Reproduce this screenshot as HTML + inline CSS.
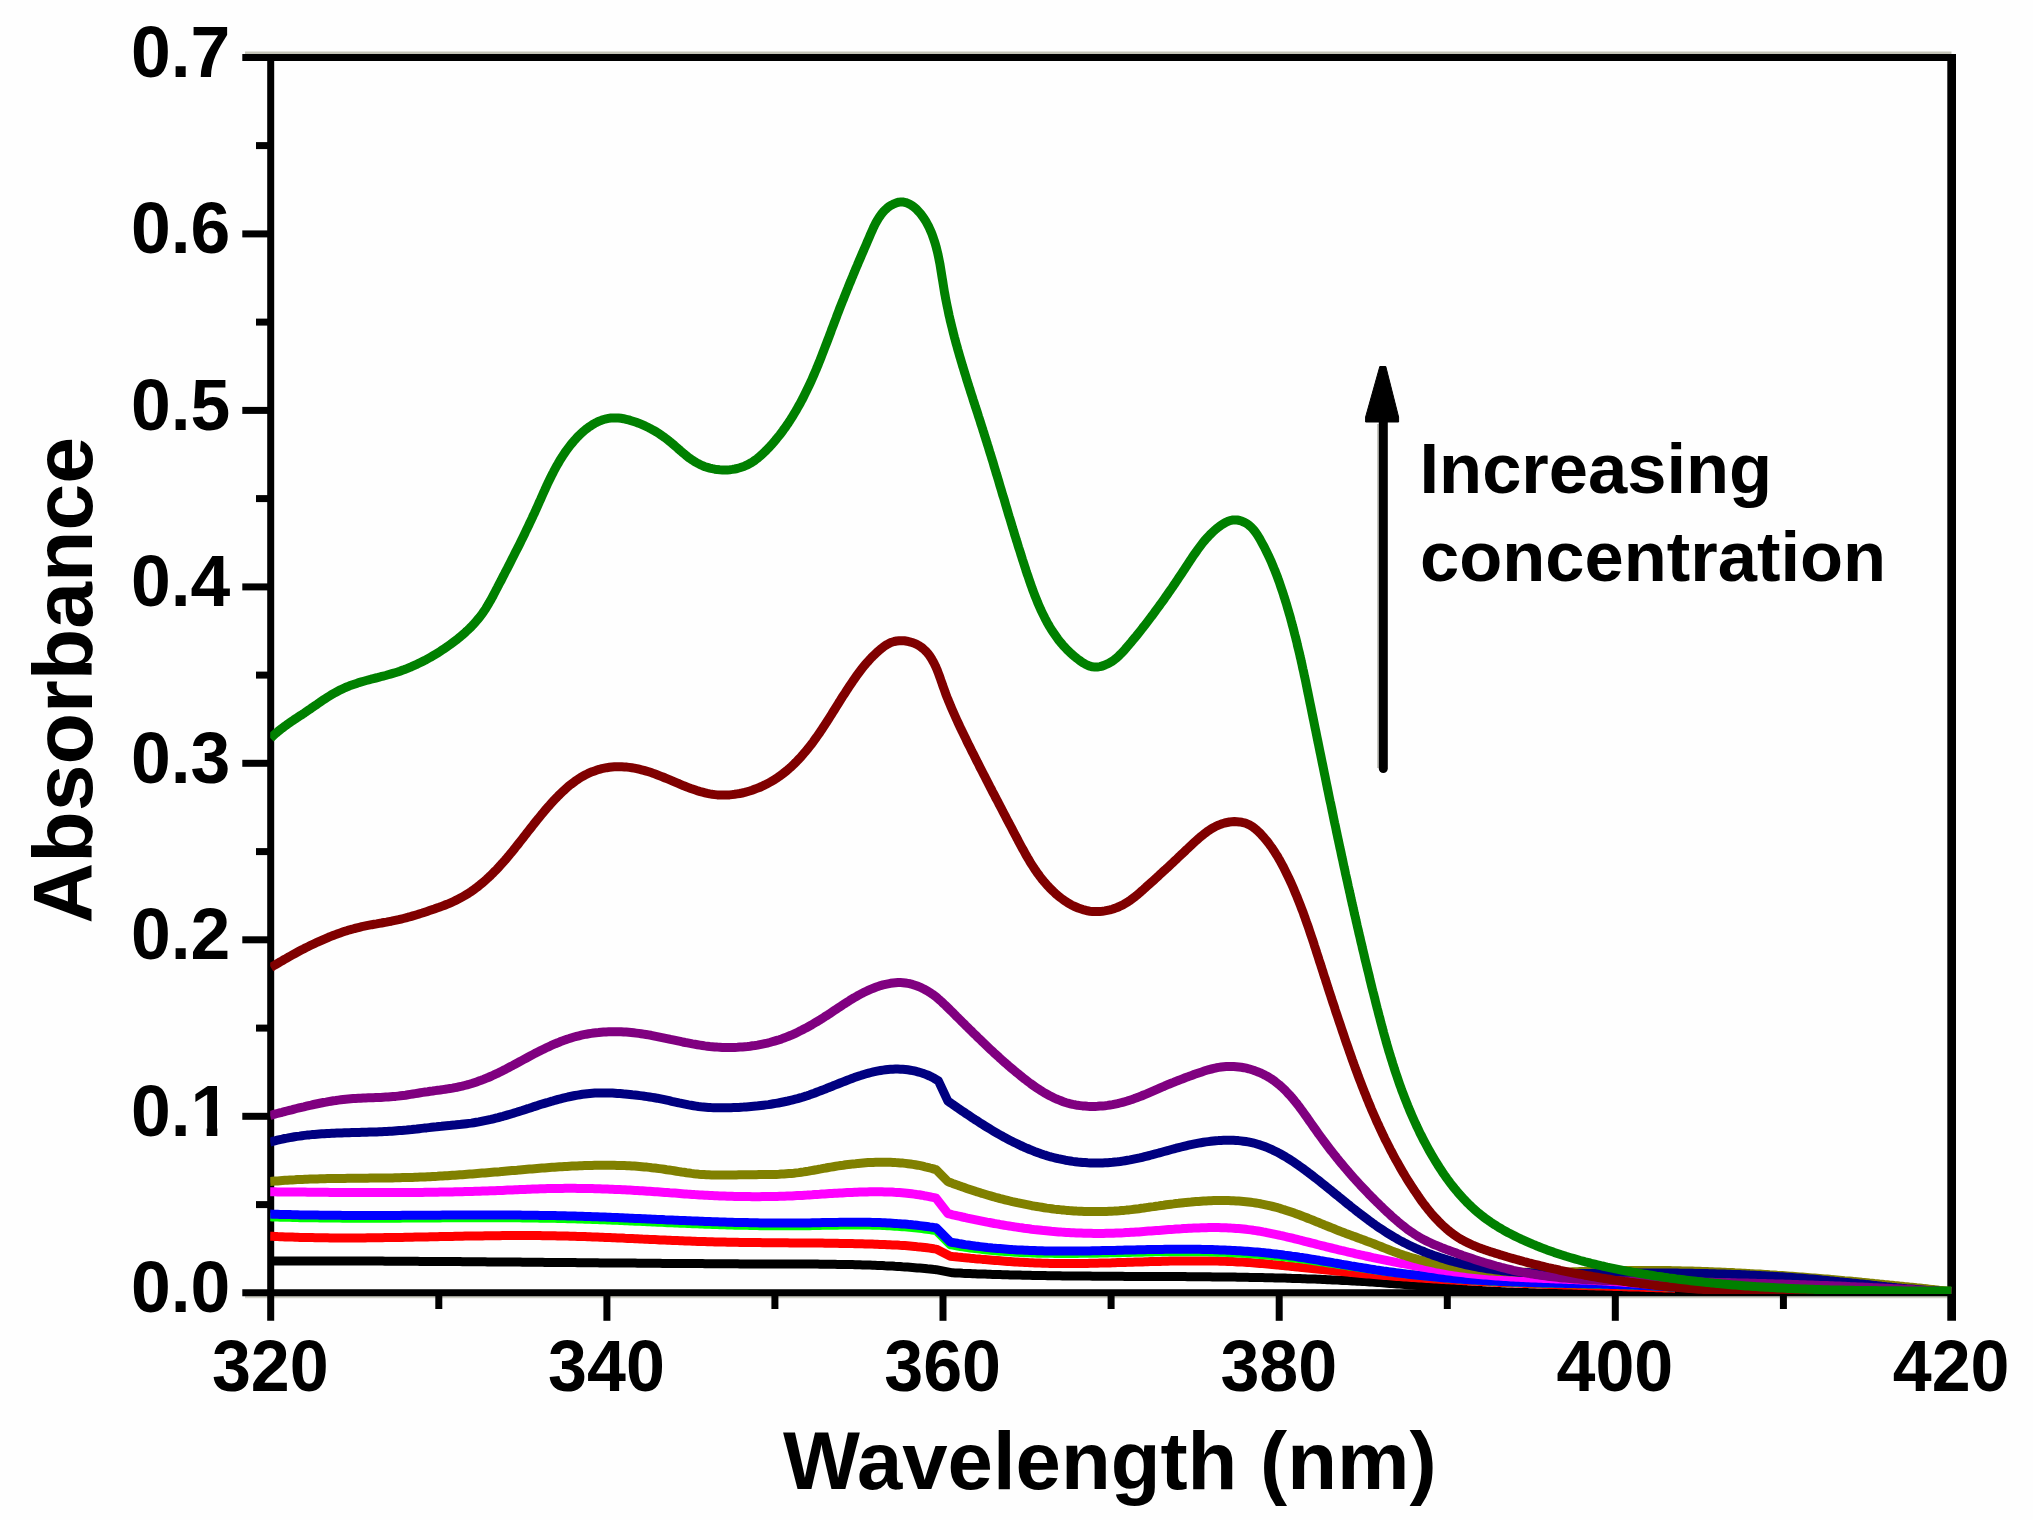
<!DOCTYPE html>
<html lang="en"><head><meta charset="utf-8"><title>Absorbance vs Wavelength</title>
<style>html,body{margin:0;padding:0;background:#fefefe}body{width:2033px;height:1520px;overflow:hidden}svg{display:block}</style></head>
<body>
<svg width="2033" height="1520" viewBox="0 0 2033 1520">
<rect width="2033" height="1520" fill="#fefefe"/>
<g stroke="#000" stroke-width="7" fill="none" stroke-linecap="butt">
<line x1="245" y1="52.8" x2="1951.5" y2="52.8" stroke="#c4c4b8" stroke-width="2.4"/>
<line x1="245" y1="1297.0" x2="1947.5" y2="1297.0" stroke="#d0d0c6" stroke-width="2.4"/>
<line x1="242.3" y1="57.4" x2="1956.0" y2="57.4"/>
<line x1="270.7" y1="57.4" x2="270.7" y2="1320.8"/>
<line x1="242.3" y1="1292.8" x2="1951.5" y2="1292.8"/>
<line x1="1951.65" y1="53.9" x2="1951.65" y2="1320.8" stroke-width="8.7"/>
<line x1="256" y1="1204.6" x2="270.7" y2="1204.6"/>
<line x1="242.3" y1="1116.3" x2="270.7" y2="1116.3"/>
<line x1="256" y1="1028.1" x2="270.7" y2="1028.1"/>
<line x1="242.3" y1="939.8" x2="270.7" y2="939.8"/>
<line x1="256" y1="851.6" x2="270.7" y2="851.6"/>
<line x1="242.3" y1="763.3" x2="270.7" y2="763.3"/>
<line x1="256" y1="675.1" x2="270.7" y2="675.1"/>
<line x1="242.3" y1="586.9" x2="270.7" y2="586.9"/>
<line x1="256" y1="498.6" x2="270.7" y2="498.6"/>
<line x1="242.3" y1="410.4" x2="270.7" y2="410.4"/>
<line x1="256" y1="322.1" x2="270.7" y2="322.1"/>
<line x1="242.3" y1="233.9" x2="270.7" y2="233.9"/>
<line x1="256" y1="145.6" x2="270.7" y2="145.6"/>
<line x1="438.8" y1="1292.8" x2="438.8" y2="1309"/>
<line x1="606.9" y1="1292.8" x2="606.9" y2="1320.8"/>
<line x1="774.9" y1="1292.8" x2="774.9" y2="1309"/>
<line x1="943.0" y1="1292.8" x2="943.0" y2="1320.8"/>
<line x1="1111.1" y1="1292.8" x2="1111.1" y2="1309"/>
<line x1="1279.2" y1="1292.8" x2="1279.2" y2="1320.8"/>
<line x1="1447.3" y1="1292.8" x2="1447.3" y2="1309"/>
<line x1="1615.3" y1="1292.8" x2="1615.3" y2="1320.8"/>
<line x1="1783.4" y1="1292.8" x2="1783.4" y2="1309"/>
</g>
<clipPath id="pc"><rect x="270.2" y="50" width="1681.6" height="1244"/></clipPath>
<g fill="none" stroke-linejoin="round" stroke-linecap="butt" clip-path="url(#pc)">
<path d="M270.0,1260.9 L272.5,1260.9 L275.0,1260.9 L277.5,1260.9 L280.0,1260.9 L282.5,1260.9 L285.0,1260.9 L287.5,1260.9 L290.0,1260.9 L292.5,1260.9 L295.0,1260.9 L297.5,1260.9 L300.0,1260.9 L302.5,1260.9 L305.0,1260.9 L307.5,1260.9 L310.0,1260.9 L312.5,1260.9 L315.0,1260.9 L317.5,1260.9 L320.0,1260.9 L322.5,1260.9 L325.0,1260.9 L327.5,1260.9 L330.0,1260.9 L332.5,1260.9 L335.0,1261.0 L337.5,1261.0 L340.0,1261.0 L342.5,1261.0 L345.0,1261.0 L347.5,1261.0 L350.0,1261.0 L352.5,1261.0 L355.0,1261.0 L357.5,1261.0 L360.0,1261.0 L362.5,1261.0 L365.0,1261.1 L367.5,1261.1 L370.0,1261.1 L372.5,1261.1 L375.0,1261.1 L377.5,1261.1 L380.0,1261.1 L382.5,1261.1 L385.0,1261.2 L387.5,1261.2 L390.0,1261.2 L392.5,1261.2 L395.0,1261.2 L397.5,1261.2 L400.0,1261.2 L402.5,1261.3 L405.0,1261.3 L407.5,1261.3 L410.0,1261.3 L412.5,1261.3 L415.0,1261.3 L417.5,1261.3 L420.0,1261.4 L422.5,1261.4 L425.0,1261.4 L427.5,1261.4 L430.0,1261.4 L432.5,1261.4 L435.0,1261.5 L437.5,1261.5 L440.0,1261.5 L442.5,1261.5 L445.0,1261.5 L447.5,1261.6 L450.0,1261.6 L452.5,1261.6 L455.0,1261.6 L457.5,1261.6 L460.0,1261.6 L462.5,1261.7 L465.0,1261.7 L467.5,1261.7 L470.0,1261.7 L472.5,1261.7 L475.0,1261.8 L477.5,1261.8 L480.0,1261.8 L482.5,1261.8 L485.0,1261.8 L487.5,1261.9 L490.0,1261.9 L492.5,1261.9 L495.0,1261.9 L497.5,1262.0 L500.0,1262.0 L502.5,1262.0 L505.0,1262.0 L507.5,1262.0 L510.0,1262.1 L512.5,1262.1 L515.0,1262.1 L517.5,1262.1 L520.0,1262.1 L522.5,1262.2 L525.0,1262.2 L527.5,1262.2 L530.0,1262.2 L532.5,1262.3 L535.0,1262.3 L537.5,1262.3 L540.0,1262.3 L542.5,1262.3 L545.0,1262.4 L547.5,1262.4 L550.0,1262.4 L552.5,1262.4 L555.0,1262.5 L557.5,1262.5 L560.0,1262.5 L562.5,1262.5 L565.0,1262.5 L567.5,1262.6 L570.0,1262.6 L572.5,1262.6 L575.0,1262.6 L577.5,1262.7 L580.0,1262.7 L582.5,1262.7 L585.0,1262.7 L587.5,1262.7 L590.0,1262.8 L592.5,1262.8 L595.0,1262.8 L597.5,1262.8 L600.0,1262.9 L602.5,1262.9 L605.0,1262.9 L607.5,1262.9 L610.0,1262.9 L612.5,1263.0 L615.0,1263.0 L617.5,1263.0 L620.0,1263.0 L622.5,1263.0 L625.0,1263.1 L627.5,1263.1 L630.0,1263.1 L632.5,1263.1 L635.0,1263.1 L637.5,1263.2 L640.0,1263.2 L642.5,1263.2 L645.0,1263.2 L647.5,1263.3 L650.0,1263.3 L652.5,1263.3 L655.0,1263.3 L657.5,1263.3 L660.0,1263.3 L662.5,1263.4 L665.0,1263.4 L667.5,1263.4 L670.0,1263.4 L672.5,1263.4 L675.0,1263.5 L677.5,1263.5 L680.0,1263.5 L682.5,1263.5 L685.0,1263.5 L687.5,1263.5 L690.0,1263.6 L692.5,1263.6 L695.0,1263.6 L697.5,1263.6 L700.0,1263.6 L702.5,1263.6 L705.0,1263.7 L707.5,1263.7 L710.0,1263.7 L712.5,1263.7 L715.0,1263.7 L717.5,1263.7 L720.0,1263.8 L722.5,1263.8 L725.0,1263.8 L727.5,1263.8 L730.0,1263.8 L732.5,1263.8 L735.0,1263.8 L737.5,1263.8 L740.0,1263.9 L742.5,1263.9 L745.0,1263.9 L747.5,1263.9 L750.0,1263.9 L752.5,1263.9 L755.0,1263.9 L757.5,1263.9 L760.0,1263.9 L762.5,1264.0 L765.0,1264.0 L767.5,1264.0 L770.0,1264.0 L772.5,1264.0 L775.0,1264.0 L777.5,1264.0 L780.0,1264.0 L782.5,1264.0 L785.0,1264.0 L787.5,1264.0 L790.0,1264.0 L792.5,1264.0 L795.0,1264.0 L797.5,1264.1 L800.0,1264.1 L802.5,1264.1 L805.0,1264.1 L807.5,1264.1 L810.0,1264.1 L812.5,1264.1 L815.0,1264.1 L817.5,1264.1 L820.0,1264.2 L822.5,1264.2 L825.0,1264.2 L827.5,1264.2 L830.0,1264.3 L832.5,1264.3 L835.0,1264.3 L837.5,1264.4 L840.0,1264.4 L842.5,1264.4 L845.0,1264.5 L847.5,1264.5 L850.0,1264.6 L852.5,1264.6 L855.0,1264.7 L857.5,1264.8 L860.0,1264.8 L862.5,1264.9 L865.0,1265.0 L867.5,1265.1 L870.0,1265.1 L872.5,1265.2 L875.0,1265.3 L877.4,1265.4 L879.9,1265.5 L882.4,1265.6 L884.9,1265.8 L887.4,1265.9 L889.9,1266.0 L892.4,1266.1 L894.9,1266.3 L897.4,1266.4 L899.9,1266.6 L902.4,1266.8 L904.9,1266.9 L907.4,1267.1 L909.9,1267.3 L912.4,1267.5 L914.8,1267.7 L917.3,1267.9 L919.8,1268.1 L922.3,1268.3 L924.8,1268.5 L927.3,1268.8 L929.8,1269.0 L932.3,1269.3 L934.8,1269.6 L936.1,1269.7 L952.6,1272.8 L955.1,1272.9 L957.6,1273.0 L960.1,1273.1 L962.6,1273.3 L965.1,1273.4 L967.6,1273.5 L970.1,1273.6 L972.6,1273.7 L975.1,1273.8 L977.6,1273.9 L980.1,1274.0 L982.6,1274.0 L985.1,1274.1 L987.6,1274.2 L990.1,1274.3 L992.6,1274.4 L995.1,1274.5 L997.6,1274.5 L1000.1,1274.6 L1002.6,1274.7 L1005.1,1274.8 L1007.6,1274.8 L1010.1,1274.9 L1012.6,1275.0 L1015.1,1275.0 L1017.6,1275.1 L1020.1,1275.1 L1022.6,1275.2 L1025.1,1275.2 L1027.6,1275.3 L1030.1,1275.3 L1032.6,1275.4 L1035.1,1275.4 L1037.6,1275.5 L1040.1,1275.5 L1042.6,1275.6 L1045.1,1275.6 L1047.6,1275.7 L1050.1,1275.7 L1052.5,1275.7 L1055.0,1275.8 L1057.5,1275.8 L1060.0,1275.8 L1062.5,1275.9 L1065.0,1275.9 L1067.5,1275.9 L1070.0,1275.9 L1072.5,1276.0 L1075.0,1276.0 L1077.5,1276.0 L1080.0,1276.1 L1082.5,1276.1 L1085.0,1276.1 L1087.5,1276.1 L1090.0,1276.1 L1092.5,1276.2 L1095.0,1276.2 L1097.5,1276.2 L1100.0,1276.2 L1102.5,1276.2 L1105.0,1276.2 L1107.5,1276.3 L1110.0,1276.3 L1112.5,1276.3 L1115.0,1276.3 L1117.5,1276.3 L1120.0,1276.3 L1122.5,1276.3 L1125.0,1276.4 L1127.5,1276.4 L1130.0,1276.4 L1132.5,1276.4 L1135.0,1276.4 L1137.6,1276.4 L1140.1,1276.4 L1142.6,1276.4 L1145.1,1276.4 L1147.6,1276.5 L1150.1,1276.5 L1152.6,1276.5 L1155.1,1276.5 L1157.6,1276.5 L1160.1,1276.5 L1162.6,1276.5 L1165.1,1276.5 L1167.6,1276.5 L1170.1,1276.6 L1172.6,1276.6 L1175.1,1276.6 L1177.6,1276.6 L1180.0,1276.6 L1182.5,1276.6 L1185.0,1276.6 L1187.5,1276.7 L1190.0,1276.7 L1192.5,1276.7 L1195.0,1276.7 L1197.5,1276.7 L1200.0,1276.7 L1202.5,1276.8 L1205.0,1276.8 L1207.5,1276.8 L1210.0,1276.8 L1212.5,1276.9 L1215.0,1276.9 L1217.5,1276.9 L1220.0,1276.9 L1222.5,1277.0 L1225.0,1277.0 L1227.5,1277.0 L1230.0,1277.1 L1232.5,1277.1 L1235.0,1277.1 L1237.5,1277.2 L1240.0,1277.2 L1242.5,1277.2 L1245.0,1277.3 L1247.5,1277.3 L1250.0,1277.4 L1252.5,1277.4 L1255.0,1277.5 L1257.5,1277.5 L1260.0,1277.5 L1262.5,1277.6 L1265.0,1277.7 L1267.5,1277.7 L1270.0,1277.8 L1272.5,1277.8 L1275.0,1277.9 L1277.5,1277.9 L1280.0,1278.0 L1282.5,1278.1 L1285.0,1278.1 L1287.5,1278.2 L1290.0,1278.3 L1292.5,1278.4 L1295.0,1278.4 L1297.5,1278.5 L1300.0,1278.6 L1302.5,1278.7 L1305.0,1278.8 L1307.5,1278.9 L1310.0,1278.9 L1312.5,1279.0 L1315.0,1279.1 L1317.5,1279.2 L1320.0,1279.3 L1322.5,1279.4 L1325.0,1279.5 L1327.5,1279.7 L1330.0,1279.8 L1332.4,1279.9 L1334.9,1280.0 L1337.4,1280.1 L1339.9,1280.2 L1342.4,1280.4 L1344.9,1280.5 L1347.4,1280.6 L1349.9,1280.8 L1352.4,1280.9 L1354.9,1281.0 L1357.4,1281.2 L1359.9,1281.3 L1362.4,1281.5 L1364.9,1281.6 L1367.4,1281.8 L1369.9,1282.0 L1372.4,1282.1 L1374.9,1282.3 L1377.4,1282.5 L1379.9,1282.6 L1382.3,1282.8 L1384.8,1283.0 L1387.3,1283.2 L1389.8,1283.4 L1392.3,1283.5 L1394.8,1283.7 L1397.3,1283.9 L1399.8,1284.1 L1402.3,1284.3 L1404.8,1284.5 L1407.3,1284.7 L1409.8,1284.9 L1412.3,1285.1 L1414.8,1285.3 L1417.3,1285.5 L1419.7,1285.8 L1422.2,1286.0 L1424.7,1286.2 L1427.2,1286.4 L1429.7,1286.6 L1432.2,1286.8 L1434.7,1287.0 L1437.2,1287.2 L1439.7,1287.4 L1442.2,1287.6 L1444.7,1287.8 L1447.2,1288.0 L1449.7,1288.2 L1452.2,1288.4 L1454.7,1288.6 L1457.1,1288.8 L1459.6,1289.0 L1462.1,1289.2 L1464.6,1289.4 L1467.1,1289.6 L1469.6,1289.7 L1472.1,1289.9 L1474.6,1290.1 L1477.1,1290.3 L1479.6,1290.4 L1482.1,1290.6 L1484.6,1290.7 L1487.1,1290.9 L1489.6,1291.0 L1492.1,1291.2 L1494.6,1291.3 L1497.1,1291.5 L1499.6,1291.6 L1502.1,1291.7 L1504.6,1291.8 L1507.1,1291.9 L1509.5,1292.0 L1512.0,1292.1 L1514.5,1292.2 L1517.0,1292.3 L1519.5,1292.4 L1522.0,1292.5 L1524.5,1292.6 L1527.0,1292.6 L1529.5,1292.7 L1532.0,1292.7 L1534.5,1292.8 L1537.0,1292.9 L1539.5,1292.9 L1542.0,1292.9 L1544.5,1293.0 L1547.0,1293.0 L1549.5,1293.0 L1552.0,1293.1 L1554.5,1293.1 L1557.0,1293.1 L1559.5,1293.1 L1562.0,1293.1 L1564.5,1293.1 L1567.0,1293.1 L1569.5,1293.1 L1572.0,1293.1 L1574.5,1293.1 L1577.0,1293.1 L1579.5,1293.1 L1582.0,1293.0 L1584.5,1293.0 L1587.0,1293.0 L1589.5,1293.0 L1592.1,1292.9 L1594.6,1292.9 L1597.1,1292.9 L1599.6,1292.8 L1602.1,1292.8 L1604.6,1292.7 L1607.1,1292.7 L1609.6,1292.6 L1612.1,1292.6 L1614.6,1292.5 L1617.1,1292.4 L1619.6,1292.4 L1622.1,1292.3 L1624.6,1292.2 L1627.1,1292.2 L1629.6,1292.1 L1632.1,1292.0 L1634.6,1292.0 L1637.1,1291.9 L1639.6,1291.8 L1642.1,1291.7 L1644.6,1291.6 L1647.1,1291.6 L1649.6,1291.5 L1652.1,1291.4 L1654.6,1291.3 L1657.1,1291.2 L1659.6,1291.1 L1662.1,1291.0 L1664.7,1290.9 L1667.2,1290.9 L1669.7,1290.8 L1672.2,1290.7 L1674.7,1290.6 L1677.2,1290.5 L1679.7,1290.4 L1682.2,1290.3 L1684.7,1290.2 L1687.2,1290.1 L1689.7,1290.0 L1692.2,1289.9 L1694.7,1289.8 L1697.2,1289.7 L1699.7,1289.6 L1702.2,1289.5 L1704.7,1289.4 L1707.2,1289.3 L1709.7,1289.2 L1712.2,1289.1 L1714.7,1289.0 L1717.2,1289.0 L1719.7,1288.9 L1722.2,1288.8 L1724.8,1288.7 L1727.3,1288.6 L1729.8,1288.5 L1732.3,1288.4 L1734.8,1288.3 L1737.3,1288.2 L1739.8,1288.1 L1742.3,1288.1 L1744.8,1288.0 L1747.3,1287.9 L1749.8,1287.8 L1752.3,1287.7 L1754.8,1287.7 L1757.3,1287.6 L1759.8,1287.5 L1762.3,1287.4 L1764.8,1287.4 L1767.3,1287.3 L1769.8,1287.2 L1772.3,1287.2 L1774.8,1287.1 L1777.3,1287.1 L1779.8,1287.0 L1782.3,1287.0 L1784.8,1286.9 L1787.3,1286.9 L1789.8,1286.8 L1792.3,1286.8 L1794.8,1286.7 L1797.3,1286.7 L1799.8,1286.7 L1802.3,1286.6 L1804.8,1286.6 L1807.3,1286.6 L1809.8,1286.5 L1812.3,1286.5 L1814.8,1286.5 L1817.3,1286.5 L1819.8,1286.5 L1822.3,1286.5 L1824.8,1286.5 L1827.3,1286.5 L1829.8,1286.5 L1832.3,1286.5 L1834.8,1286.5 L1837.3,1286.5 L1839.8,1286.6 L1842.3,1286.6 L1844.8,1286.6 L1847.3,1286.7 L1849.8,1286.7 L1852.3,1286.7 L1854.8,1286.8 L1857.3,1286.9 L1859.8,1286.9 L1862.3,1287.0 L1864.8,1287.0 L1867.3,1287.1 L1869.8,1287.2 L1872.3,1287.3 L1874.8,1287.4 L1877.3,1287.5 L1879.8,1287.6 L1882.3,1287.7 L1884.8,1287.8 L1887.3,1287.9 L1889.8,1288.0 L1892.3,1288.1 L1894.7,1288.3 L1897.2,1288.4 L1899.7,1288.6 L1902.2,1288.7 L1904.7,1288.9 L1907.2,1289.0 L1909.7,1289.2 L1912.2,1289.4 L1914.7,1289.5 L1917.2,1289.7 L1919.7,1289.9 L1922.2,1290.1 L1924.7,1290.3 L1927.1,1290.5 L1929.6,1290.8 L1932.1,1291.0 L1934.6,1291.2 L1937.1,1291.5 L1939.6,1291.7 L1942.1,1292.0 L1944.6,1292.2 L1947.1,1292.5 L1949.5,1292.8 L1951.5,1293.0" stroke="#000000" stroke-width="9"/>
<path d="M270.0,1236.2 L272.5,1236.3 L275.0,1236.4 L277.5,1236.6 L280.0,1236.7 L282.5,1236.8 L285.0,1236.9 L287.5,1237.0 L290.0,1237.0 L292.5,1237.1 L295.0,1237.2 L297.5,1237.3 L300.0,1237.4 L302.5,1237.4 L305.0,1237.5 L307.5,1237.5 L310.0,1237.6 L312.5,1237.6 L315.0,1237.7 L317.5,1237.7 L320.0,1237.8 L322.5,1237.8 L325.0,1237.8 L327.5,1237.8 L330.0,1237.9 L332.5,1237.9 L335.0,1237.9 L337.5,1237.9 L340.0,1237.9 L342.5,1237.9 L345.0,1237.9 L347.5,1237.9 L350.0,1237.9 L352.5,1237.9 L355.0,1237.9 L357.5,1237.9 L360.0,1237.9 L362.5,1237.9 L365.0,1237.9 L367.5,1237.8 L370.0,1237.8 L372.5,1237.8 L375.0,1237.8 L377.5,1237.7 L380.0,1237.7 L382.5,1237.7 L385.0,1237.6 L387.5,1237.6 L390.0,1237.6 L392.5,1237.5 L395.0,1237.5 L397.5,1237.4 L400.0,1237.4 L402.5,1237.4 L405.0,1237.3 L407.5,1237.3 L410.0,1237.2 L412.5,1237.2 L415.0,1237.1 L417.5,1237.1 L420.0,1237.0 L422.5,1237.0 L425.0,1236.9 L427.5,1236.9 L430.0,1236.8 L432.5,1236.8 L435.0,1236.7 L437.5,1236.7 L440.0,1236.6 L442.5,1236.6 L445.0,1236.5 L447.5,1236.5 L450.0,1236.4 L452.5,1236.4 L455.0,1236.3 L457.5,1236.3 L460.0,1236.2 L462.5,1236.2 L465.0,1236.1 L467.5,1236.1 L470.0,1236.1 L472.5,1236.0 L475.0,1236.0 L477.5,1235.9 L480.0,1235.9 L482.5,1235.9 L485.0,1235.8 L487.5,1235.8 L490.0,1235.8 L492.5,1235.7 L495.0,1235.7 L497.5,1235.7 L500.0,1235.7 L502.5,1235.6 L505.0,1235.6 L507.5,1235.6 L510.0,1235.6 L512.5,1235.6 L515.0,1235.6 L517.5,1235.6 L520.0,1235.6 L522.5,1235.6 L525.0,1235.6 L527.5,1235.6 L530.0,1235.6 L532.5,1235.6 L535.0,1235.6 L537.5,1235.6 L540.0,1235.6 L542.5,1235.7 L545.0,1235.7 L547.5,1235.7 L550.0,1235.8 L552.5,1235.8 L555.0,1235.8 L557.5,1235.9 L560.0,1235.9 L562.5,1236.0 L565.0,1236.0 L567.5,1236.1 L570.0,1236.2 L572.5,1236.2 L575.0,1236.3 L577.5,1236.4 L580.0,1236.5 L582.5,1236.6 L585.0,1236.6 L587.5,1236.7 L590.0,1236.8 L592.5,1236.9 L595.0,1237.0 L597.5,1237.1 L600.0,1237.2 L602.5,1237.3 L605.0,1237.4 L607.5,1237.5 L610.0,1237.6 L612.5,1237.7 L615.0,1237.8 L617.5,1237.9 L620.0,1238.0 L622.5,1238.1 L625.0,1238.3 L627.5,1238.4 L630.0,1238.5 L632.5,1238.6 L635.0,1238.7 L637.4,1238.8 L639.9,1238.9 L642.4,1239.1 L644.9,1239.2 L647.4,1239.3 L649.9,1239.4 L652.4,1239.5 L654.9,1239.6 L657.4,1239.7 L659.9,1239.9 L662.4,1240.0 L664.9,1240.1 L667.4,1240.2 L669.9,1240.3 L672.4,1240.4 L674.9,1240.5 L677.4,1240.6 L679.9,1240.7 L682.4,1240.8 L684.9,1240.9 L687.4,1241.0 L689.9,1241.1 L692.4,1241.2 L694.9,1241.3 L697.4,1241.4 L699.9,1241.4 L702.4,1241.5 L704.9,1241.6 L707.4,1241.7 L709.9,1241.7 L712.4,1241.8 L714.9,1241.9 L717.4,1241.9 L719.9,1242.0 L722.4,1242.1 L724.9,1242.1 L727.4,1242.2 L729.9,1242.2 L732.4,1242.3 L734.9,1242.3 L737.4,1242.3 L739.9,1242.4 L742.4,1242.4 L744.9,1242.5 L747.4,1242.5 L749.9,1242.5 L752.4,1242.5 L754.9,1242.6 L757.4,1242.6 L759.9,1242.6 L762.4,1242.7 L764.9,1242.7 L767.4,1242.7 L769.9,1242.7 L772.4,1242.7 L774.9,1242.8 L777.4,1242.8 L779.9,1242.8 L782.4,1242.8 L784.9,1242.8 L787.4,1242.8 L789.9,1242.9 L792.4,1242.9 L794.9,1242.9 L797.4,1242.9 L799.9,1242.9 L802.4,1243.0 L804.9,1243.0 L807.4,1243.0 L809.9,1243.0 L812.4,1243.0 L814.9,1243.1 L817.4,1243.1 L819.9,1243.1 L822.4,1243.1 L824.9,1243.2 L827.4,1243.2 L829.9,1243.2 L832.4,1243.3 L834.9,1243.3 L837.4,1243.3 L839.9,1243.4 L842.4,1243.4 L844.9,1243.5 L847.4,1243.5 L849.9,1243.5 L852.4,1243.6 L854.9,1243.7 L857.4,1243.7 L859.9,1243.8 L862.4,1243.8 L864.9,1243.9 L867.4,1244.0 L869.9,1244.0 L872.3,1244.1 L874.8,1244.2 L877.3,1244.3 L879.8,1244.4 L882.3,1244.5 L884.8,1244.5 L887.3,1244.7 L889.8,1244.8 L892.3,1244.9 L894.8,1245.0 L897.3,1245.1 L899.8,1245.3 L902.3,1245.4 L904.8,1245.6 L907.3,1245.8 L909.8,1246.0 L912.2,1246.2 L914.7,1246.4 L917.2,1246.7 L919.7,1246.9 L922.2,1247.2 L924.7,1247.5 L927.2,1247.8 L929.7,1248.1 L932.1,1248.5 L934.6,1248.9 L936.1,1249.1 L950.3,1256.2 L952.8,1256.5 L955.3,1256.7 L957.8,1257.0 L960.2,1257.2 L962.7,1257.5 L965.2,1257.7 L967.7,1257.9 L970.2,1258.2 L972.7,1258.4 L975.2,1258.7 L977.7,1258.9 L980.1,1259.1 L982.6,1259.4 L985.1,1259.6 L987.6,1259.8 L990.1,1260.0 L992.6,1260.2 L995.1,1260.4 L997.6,1260.6 L1000.1,1260.8 L1002.6,1261.0 L1005.1,1261.2 L1007.6,1261.4 L1010.1,1261.5 L1012.5,1261.7 L1015.0,1261.9 L1017.5,1262.0 L1020.0,1262.2 L1022.5,1262.3 L1025.0,1262.5 L1027.5,1262.6 L1030.0,1262.7 L1032.5,1262.8 L1035.0,1262.9 L1037.5,1263.0 L1040.0,1263.1 L1042.5,1263.2 L1045.0,1263.2 L1047.5,1263.3 L1050.0,1263.4 L1052.5,1263.4 L1055.0,1263.4 L1057.5,1263.5 L1060.0,1263.5 L1062.5,1263.5 L1065.0,1263.5 L1067.5,1263.5 L1070.0,1263.5 L1072.5,1263.5 L1075.0,1263.5 L1077.5,1263.5 L1080.0,1263.5 L1082.5,1263.4 L1085.0,1263.4 L1087.5,1263.4 L1090.0,1263.3 L1092.5,1263.3 L1095.0,1263.2 L1097.5,1263.2 L1100.0,1263.1 L1102.5,1263.0 L1105.0,1263.0 L1107.5,1262.9 L1110.0,1262.9 L1112.5,1262.8 L1115.0,1262.7 L1117.6,1262.6 L1120.1,1262.6 L1122.6,1262.5 L1125.1,1262.4 L1127.6,1262.3 L1130.1,1262.3 L1132.6,1262.2 L1135.1,1262.1 L1137.6,1262.0 L1140.1,1261.9 L1142.6,1261.9 L1145.1,1261.8 L1147.6,1261.7 L1150.1,1261.6 L1152.6,1261.6 L1155.1,1261.5 L1157.6,1261.4 L1160.1,1261.4 L1162.6,1261.3 L1165.1,1261.3 L1167.6,1261.2 L1170.1,1261.1 L1172.6,1261.1 L1175.1,1261.0 L1177.6,1261.0 L1180.1,1261.0 L1182.6,1260.9 L1185.1,1260.9 L1187.6,1260.9 L1190.1,1260.9 L1192.6,1260.9 L1195.1,1260.9 L1197.6,1260.9 L1200.1,1260.9 L1202.6,1260.9 L1205.1,1260.9 L1207.6,1260.9 L1210.0,1261.0 L1212.5,1261.0 L1215.0,1261.0 L1217.5,1261.1 L1220.0,1261.2 L1222.5,1261.2 L1225.0,1261.3 L1227.5,1261.4 L1230.0,1261.5 L1232.5,1261.6 L1235.0,1261.7 L1237.5,1261.9 L1240.0,1262.0 L1242.5,1262.1 L1245.0,1262.3 L1247.4,1262.5 L1249.9,1262.6 L1252.4,1262.8 L1254.9,1263.0 L1257.4,1263.2 L1259.9,1263.4 L1262.4,1263.6 L1264.9,1263.8 L1267.4,1264.0 L1269.9,1264.2 L1272.3,1264.5 L1274.8,1264.7 L1277.3,1264.9 L1279.8,1265.2 L1282.3,1265.4 L1284.8,1265.7 L1287.3,1265.9 L1289.8,1266.2 L1292.2,1266.4 L1294.7,1266.7 L1297.2,1266.9 L1299.7,1267.2 L1302.2,1267.5 L1304.7,1267.7 L1307.2,1268.0 L1309.7,1268.2 L1312.1,1268.5 L1314.6,1268.8 L1317.1,1269.0 L1319.6,1269.3 L1322.1,1269.6 L1324.6,1269.8 L1327.1,1270.1 L1329.6,1270.3 L1332.0,1270.6 L1334.5,1270.8 L1337.0,1271.1 L1339.5,1271.3 L1342.0,1271.6 L1344.5,1271.8 L1347.0,1272.1 L1349.5,1272.3 L1352.0,1272.5 L1354.4,1272.8 L1356.9,1273.0 L1359.4,1273.2 L1361.9,1273.5 L1364.4,1273.7 L1366.9,1273.9 L1369.4,1274.1 L1371.9,1274.3 L1374.4,1274.6 L1376.9,1274.8 L1379.4,1275.0 L1381.9,1275.2 L1384.3,1275.4 L1386.8,1275.6 L1389.3,1275.8 L1391.8,1276.0 L1394.3,1276.2 L1396.8,1276.4 L1399.3,1276.6 L1401.8,1276.7 L1404.3,1276.9 L1406.8,1277.1 L1409.3,1277.3 L1411.8,1277.5 L1414.3,1277.6 L1416.8,1277.8 L1419.2,1278.0 L1421.7,1278.1 L1424.2,1278.3 L1426.7,1278.5 L1429.2,1278.6 L1431.7,1278.8 L1434.2,1278.9 L1436.7,1279.1 L1439.2,1279.3 L1441.7,1279.4 L1444.2,1279.6 L1446.7,1279.7 L1449.2,1279.8 L1451.7,1280.0 L1454.2,1280.1 L1456.7,1280.3 L1459.2,1280.4 L1461.7,1280.5 L1464.2,1280.7 L1466.6,1280.8 L1469.1,1280.9 L1471.6,1281.1 L1474.1,1281.2 L1476.6,1281.3 L1479.1,1281.4 L1481.6,1281.6 L1484.1,1281.7 L1486.6,1281.8 L1489.1,1281.9 L1491.6,1282.0 L1494.1,1282.2 L1496.6,1282.3 L1499.1,1282.4 L1501.6,1282.5 L1504.1,1282.6 L1506.6,1282.7 L1509.1,1282.8 L1511.6,1282.9 L1514.1,1283.0 L1516.6,1283.1 L1519.1,1283.2 L1521.6,1283.3 L1524.1,1283.4 L1526.6,1283.5 L1529.1,1283.6 L1531.6,1283.7 L1534.1,1283.8 L1536.6,1283.9 L1539.1,1284.0 L1541.6,1284.1 L1544.1,1284.2 L1546.6,1284.3 L1549.1,1284.4 L1551.6,1284.4 L1554.1,1284.5 L1556.6,1284.6 L1559.0,1284.7 L1561.5,1284.8 L1564.0,1284.9 L1566.5,1285.0 L1569.0,1285.0 L1571.5,1285.1 L1574.0,1285.2 L1576.5,1285.3 L1579.0,1285.4 L1581.5,1285.4 L1584.0,1285.5 L1586.5,1285.6 L1589.0,1285.7 L1591.5,1285.7 L1594.0,1285.8 L1596.5,1285.9 L1599.0,1286.0 L1601.5,1286.1 L1604.0,1286.1 L1606.5,1286.2 L1609.0,1286.3 L1611.5,1286.3 L1614.0,1286.4 L1616.5,1286.5 L1619.0,1286.6 L1621.5,1286.6 L1624.0,1286.7 L1626.5,1286.8 L1629.0,1286.9 L1631.5,1286.9 L1634.0,1287.0 L1636.5,1287.1 L1639.0,1287.1 L1641.5,1287.2 L1644.0,1287.3 L1646.5,1287.4 L1649.0,1287.4 L1651.5,1287.5 L1654.0,1287.6 L1656.5,1287.7 L1659.0,1287.7 L1661.5,1287.8 L1664.0,1287.9 L1666.5,1287.9 L1669.0,1288.0 L1671.5,1288.1 L1674.0,1288.2 L1675.0,1288.2" stroke="#ff0000" stroke-width="9"/>
<path d="M270.0,1217.1 L272.5,1217.2 L275.0,1217.3 L277.5,1217.3 L280.0,1217.4 L282.5,1217.5 L285.0,1217.5 L287.5,1217.6 L290.0,1217.6 L292.5,1217.7 L295.0,1217.8 L297.5,1217.8 L300.0,1217.9 L302.5,1217.9 L305.0,1218.0 L307.5,1218.0 L310.0,1218.0 L312.5,1218.1 L315.0,1218.1 L317.5,1218.1 L320.0,1218.2 L322.5,1218.2 L325.0,1218.2 L327.5,1218.3 L330.0,1218.3 L332.5,1218.3 L335.0,1218.3 L337.5,1218.3 L340.0,1218.3 L342.5,1218.4 L345.0,1218.4 L347.5,1218.4 L350.0,1218.4 L352.5,1218.4 L355.0,1218.4 L357.5,1218.4 L360.0,1218.4 L362.5,1218.4 L365.0,1218.4 L367.5,1218.4 L370.0,1218.4 L372.5,1218.4 L375.0,1218.4 L377.5,1218.4 L380.0,1218.4 L382.5,1218.4 L385.0,1218.4 L387.5,1218.4 L390.0,1218.4 L392.5,1218.4 L395.0,1218.4 L397.5,1218.4 L400.0,1218.4 L402.5,1218.3 L405.0,1218.3 L407.5,1218.3 L410.0,1218.3 L412.5,1218.3 L415.0,1218.3 L417.5,1218.3 L420.0,1218.3 L422.5,1218.2 L425.0,1218.2 L427.5,1218.2 L430.0,1218.2 L432.5,1218.2 L435.0,1218.2 L437.5,1218.2 L440.0,1218.2 L442.5,1218.1 L445.0,1218.1 L447.5,1218.1 L450.0,1218.1 L452.5,1218.1 L455.0,1218.1 L457.5,1218.1 L460.0,1218.1 L462.5,1218.1 L465.0,1218.1 L467.5,1218.0 L470.0,1218.0 L472.5,1218.0 L475.0,1218.0 L477.5,1218.0 L480.0,1218.0 L482.5,1218.0 L485.0,1218.0 L487.5,1218.0 L490.0,1218.0 L492.5,1218.0 L495.0,1218.0 L497.5,1218.0 L500.0,1218.0 L502.5,1218.0 L505.0,1218.1 L507.5,1218.1 L510.0,1218.1 L512.5,1218.1 L515.0,1218.1 L517.5,1218.1 L520.0,1218.1 L522.5,1218.2 L525.0,1218.2 L527.5,1218.2 L530.0,1218.2 L532.5,1218.3 L535.0,1218.3 L537.5,1218.3 L540.0,1218.4 L542.5,1218.4 L545.0,1218.4 L547.5,1218.5 L550.0,1218.5 L552.5,1218.6 L555.0,1218.6 L557.5,1218.7 L560.0,1218.7 L562.5,1218.8 L565.0,1218.8 L567.5,1218.9 L570.0,1219.0 L572.5,1219.0 L575.0,1219.1 L577.5,1219.2 L580.0,1219.2 L582.5,1219.3 L585.0,1219.4 L587.5,1219.5 L590.0,1219.6 L592.5,1219.7 L595.0,1219.7 L597.5,1219.8 L600.0,1219.9 L602.5,1220.0 L605.0,1220.1 L607.5,1220.2 L610.0,1220.3 L612.5,1220.4 L615.0,1220.5 L617.4,1220.6 L619.9,1220.7 L622.4,1220.8 L624.9,1221.0 L627.4,1221.1 L629.9,1221.2 L632.4,1221.3 L634.9,1221.4 L637.4,1221.5 L639.9,1221.6 L642.4,1221.7 L644.9,1221.8 L647.4,1222.0 L649.9,1222.1 L652.4,1222.2 L654.9,1222.3 L657.4,1222.4 L659.9,1222.5 L662.4,1222.6 L664.9,1222.8 L667.4,1222.9 L669.9,1223.0 L672.4,1223.1 L674.9,1223.2 L677.4,1223.3 L679.9,1223.4 L682.4,1223.5 L684.9,1223.6 L687.4,1223.7 L689.9,1223.8 L692.4,1223.9 L694.9,1224.0 L697.4,1224.1 L699.9,1224.2 L702.4,1224.3 L704.9,1224.4 L707.4,1224.5 L709.9,1224.6 L712.3,1224.7 L714.8,1224.8 L717.3,1224.8 L719.8,1224.9 L722.3,1225.0 L724.8,1225.1 L727.3,1225.2 L729.8,1225.2 L732.3,1225.3 L734.8,1225.4 L737.3,1225.4 L739.8,1225.5 L742.3,1225.5 L744.8,1225.6 L747.3,1225.6 L749.8,1225.7 L752.3,1225.7 L754.8,1225.8 L757.3,1225.8 L759.8,1225.9 L762.3,1225.9 L764.8,1225.9 L767.3,1225.9 L769.8,1226.0 L772.3,1226.0 L774.8,1226.0 L777.3,1226.0 L779.8,1226.0 L782.3,1226.0 L784.8,1226.0 L787.3,1226.0 L789.8,1226.0 L792.3,1226.0 L794.8,1226.0 L797.3,1226.0 L799.8,1226.0 L802.3,1226.0 L804.8,1225.9 L807.3,1225.9 L809.8,1225.9 L812.3,1225.8 L814.8,1225.8 L817.3,1225.7 L819.8,1225.7 L822.3,1225.6 L824.8,1225.6 L827.3,1225.5 L829.8,1225.5 L832.3,1225.5 L834.8,1225.4 L837.3,1225.4 L839.8,1225.3 L842.3,1225.3 L844.8,1225.3 L847.3,1225.2 L849.8,1225.2 L852.3,1225.2 L854.8,1225.2 L857.3,1225.2 L859.8,1225.2 L862.3,1225.2 L864.8,1225.3 L867.3,1225.3 L869.8,1225.3 L872.3,1225.4 L874.8,1225.5 L877.3,1225.5 L879.8,1225.6 L882.3,1225.7 L884.8,1225.8 L887.3,1226.0 L889.8,1226.1 L892.3,1226.2 L894.8,1226.4 L897.2,1226.6 L899.7,1226.7 L902.2,1226.9 L904.7,1227.1 L907.2,1227.3 L909.7,1227.6 L912.2,1227.8 L914.7,1228.1 L917.2,1228.3 L919.6,1228.6 L922.1,1228.9 L924.6,1229.2 L927.1,1229.5 L929.6,1229.9 L932.1,1230.2 L934.6,1230.6 L936.1,1230.8 L950.3,1245.0 L952.8,1245.4 L955.3,1245.9 L957.7,1246.3 L960.2,1246.7 L962.7,1247.1 L965.2,1247.5 L967.6,1247.8 L970.1,1248.2 L972.6,1248.5 L975.1,1248.8 L977.6,1249.1 L980.1,1249.4 L982.5,1249.7 L985.0,1250.0 L987.5,1250.3 L990.0,1250.5 L992.5,1250.7 L995.0,1251.0 L997.5,1251.2 L999.9,1251.4 L1002.4,1251.6 L1004.9,1251.8 L1007.4,1252.0 L1009.9,1252.1 L1012.4,1252.3 L1014.9,1252.4 L1017.4,1252.6 L1019.9,1252.7 L1022.4,1252.8 L1024.9,1252.9 L1027.4,1253.0 L1029.9,1253.1 L1032.4,1253.2 L1034.8,1253.3 L1037.3,1253.4 L1039.8,1253.4 L1042.3,1253.5 L1044.8,1253.5 L1047.3,1253.6 L1049.8,1253.6 L1052.3,1253.6 L1054.8,1253.7 L1057.3,1253.7 L1059.8,1253.7 L1062.3,1253.7 L1064.8,1253.7 L1067.3,1253.7 L1069.8,1253.7 L1072.3,1253.7 L1074.8,1253.7 L1077.3,1253.7 L1079.8,1253.6 L1082.3,1253.6 L1084.8,1253.6 L1087.3,1253.5 L1089.8,1253.5 L1092.3,1253.5 L1094.8,1253.4 L1097.3,1253.4 L1099.8,1253.3 L1102.3,1253.3 L1104.8,1253.2 L1107.4,1253.2 L1109.9,1253.1 L1112.4,1253.1 L1114.9,1253.0 L1117.4,1253.0 L1119.9,1252.9 L1122.4,1252.8 L1124.9,1252.8 L1127.4,1252.7 L1129.9,1252.7 L1132.4,1252.6 L1134.9,1252.5 L1137.4,1252.5 L1139.9,1252.4 L1142.4,1252.4 L1144.9,1252.3 L1147.4,1252.3 L1149.9,1252.2 L1152.4,1252.2 L1154.9,1252.1 L1157.4,1252.1 L1159.9,1252.1 L1162.4,1252.0 L1164.9,1252.0 L1167.4,1252.0 L1169.9,1251.9 L1172.4,1251.9 L1174.9,1251.9 L1177.4,1251.9 L1179.9,1251.9 L1182.4,1251.9 L1184.9,1251.9 L1187.4,1251.9 L1189.9,1251.9 L1192.4,1251.9 L1194.9,1251.9 L1197.4,1252.0 L1199.9,1252.0 L1202.4,1252.0 L1204.9,1252.1 L1207.4,1252.1 L1209.9,1252.2 L1212.4,1252.2 L1214.9,1252.3 L1217.4,1252.4 L1219.9,1252.5 L1222.4,1252.5 L1224.9,1252.6 L1227.4,1252.7 L1229.9,1252.9 L1232.4,1253.0 L1234.9,1253.1 L1237.3,1253.2 L1239.8,1253.3 L1242.3,1253.5 L1244.8,1253.6 L1247.3,1253.8 L1249.8,1254.0 L1252.3,1254.1 L1254.8,1254.3 L1257.3,1254.5 L1259.8,1254.7 L1262.2,1254.9 L1264.7,1255.1 L1267.2,1255.3 L1269.7,1255.6 L1272.2,1255.8 L1274.7,1256.0 L1277.1,1256.3 L1279.6,1256.6 L1282.1,1256.8 L1284.6,1257.1 L1287.1,1257.4 L1289.5,1257.7 L1292.0,1258.0 L1294.5,1258.3 L1297.0,1258.6 L1299.5,1258.9 L1301.9,1259.3 L1304.4,1259.6 L1306.9,1259.9 L1309.4,1260.3 L1311.8,1260.6 L1314.3,1261.0 L1316.8,1261.3 L1319.3,1261.7 L1321.7,1262.1 L1324.2,1262.4 L1326.7,1262.8 L1329.2,1263.2 L1331.6,1263.5 L1334.1,1263.9 L1336.6,1264.3 L1339.1,1264.7 L1341.5,1265.0 L1344.0,1265.4 L1346.5,1265.8 L1349.0,1266.2 L1351.4,1266.6 L1353.9,1266.9 L1356.4,1267.3 L1358.8,1267.7 L1361.3,1268.0 L1363.8,1268.4 L1366.3,1268.8 L1368.7,1269.1 L1371.2,1269.5 L1373.7,1269.8 L1376.2,1270.2 L1378.7,1270.5 L1381.1,1270.9 L1383.6,1271.2 L1386.1,1271.5 L1388.6,1271.8 L1391.0,1272.2 L1393.5,1272.5 L1396.0,1272.8 L1398.5,1273.1 L1401.0,1273.4 L1403.5,1273.7 L1405.9,1274.0 L1408.4,1274.2 L1410.9,1274.5 L1413.4,1274.8 L1415.9,1275.1 L1418.4,1275.3 L1420.8,1275.6 L1423.3,1275.9 L1425.8,1276.1 L1428.3,1276.4 L1430.8,1276.6 L1433.3,1276.9 L1435.7,1277.1 L1438.2,1277.3 L1440.7,1277.6 L1443.2,1277.8 L1445.7,1278.0 L1448.2,1278.2 L1450.7,1278.4 L1453.2,1278.6 L1455.7,1278.8 L1458.1,1279.0 L1460.6,1279.2 L1463.1,1279.4 L1465.6,1279.6 L1468.1,1279.8 L1470.6,1280.0 L1473.1,1280.1 L1475.6,1280.3 L1478.1,1280.5 L1480.6,1280.6 L1483.1,1280.8 L1485.6,1280.9 L1488.1,1281.1 L1490.5,1281.2 L1493.0,1281.4 L1495.5,1281.5 L1498.0,1281.6 L1500.5,1281.8 L1503.0,1281.9 L1505.5,1282.0 L1508.0,1282.1 L1510.5,1282.2 L1513.0,1282.3 L1515.5,1282.4 L1518.0,1282.5 L1520.5,1282.6 L1523.0,1282.7 L1525.5,1282.8 L1528.0,1282.9 L1530.5,1283.0 L1533.0,1283.1 L1535.5,1283.1 L1538.0,1283.2 L1540.5,1283.3 L1543.0,1283.3 L1545.5,1283.4 L1548.0,1283.5 L1550.5,1283.5 L1553.0,1283.6 L1555.5,1283.6 L1558.0,1283.7 L1560.5,1283.7 L1563.0,1283.8 L1565.5,1283.8 L1568.0,1283.9 L1570.5,1283.9 L1573.0,1284.0 L1575.5,1284.0 L1578.0,1284.1 L1580.5,1284.1 L1583.0,1284.2 L1585.5,1284.2 L1588.0,1284.3 L1590.5,1284.3 L1593.0,1284.3 L1595.5,1284.4 L1598.0,1284.4 L1600.5,1284.5 L1603.0,1284.5 L1605.5,1284.6 L1608.0,1284.7 L1610.5,1284.7 L1613.0,1284.8 L1615.5,1284.8 L1618.0,1284.9 L1620.5,1285.0 L1623.0,1285.0 L1625.5,1285.1 L1628.0,1285.2 L1630.5,1285.3 L1633.0,1285.4 L1635.5,1285.4 L1638.0,1285.5 L1640.5,1285.6 L1643.0,1285.7 L1645.5,1285.8 L1648.0,1285.9 L1650.5,1286.1 L1653.0,1286.2 L1655.5,1286.3 L1658.0,1286.4 L1660.5,1286.6 L1663.0,1286.7 L1665.5,1286.9 L1668.0,1287.0 L1670.5,1287.2 L1673.0,1287.4 L1675.0,1287.5" stroke="#00ff00" stroke-width="8.5"/>
<path d="M270.0,1214.1 L272.5,1214.2 L275.0,1214.3 L277.5,1214.3 L280.0,1214.4 L282.5,1214.5 L285.0,1214.5 L287.5,1214.6 L290.0,1214.6 L292.5,1214.7 L295.0,1214.8 L297.5,1214.8 L300.0,1214.9 L302.5,1214.9 L305.0,1215.0 L307.5,1215.0 L310.0,1215.0 L312.5,1215.1 L315.0,1215.1 L317.5,1215.1 L320.0,1215.2 L322.5,1215.2 L325.0,1215.2 L327.5,1215.3 L330.0,1215.3 L332.5,1215.3 L335.0,1215.3 L337.5,1215.3 L340.0,1215.3 L342.5,1215.4 L345.0,1215.4 L347.5,1215.4 L350.0,1215.4 L352.5,1215.4 L355.0,1215.4 L357.5,1215.4 L360.0,1215.4 L362.5,1215.4 L365.0,1215.4 L367.5,1215.4 L370.0,1215.4 L372.5,1215.4 L375.0,1215.4 L377.5,1215.4 L380.0,1215.4 L382.5,1215.4 L385.0,1215.4 L387.5,1215.4 L390.0,1215.4 L392.5,1215.4 L395.0,1215.4 L397.5,1215.4 L400.0,1215.4 L402.5,1215.3 L405.0,1215.3 L407.5,1215.3 L410.0,1215.3 L412.5,1215.3 L415.0,1215.3 L417.5,1215.3 L420.0,1215.3 L422.5,1215.2 L425.0,1215.2 L427.5,1215.2 L430.0,1215.2 L432.5,1215.2 L435.0,1215.2 L437.5,1215.2 L440.0,1215.2 L442.5,1215.1 L445.0,1215.1 L447.5,1215.1 L450.0,1215.1 L452.5,1215.1 L455.0,1215.1 L457.5,1215.1 L460.0,1215.1 L462.5,1215.1 L465.0,1215.1 L467.5,1215.0 L470.0,1215.0 L472.5,1215.0 L475.0,1215.0 L477.5,1215.0 L480.0,1215.0 L482.5,1215.0 L485.0,1215.0 L487.5,1215.0 L490.0,1215.0 L492.5,1215.0 L495.0,1215.0 L497.5,1215.0 L500.0,1215.0 L502.5,1215.0 L505.0,1215.1 L507.5,1215.1 L510.0,1215.1 L512.5,1215.1 L515.0,1215.1 L517.5,1215.1 L520.0,1215.1 L522.5,1215.2 L525.0,1215.2 L527.5,1215.2 L530.0,1215.2 L532.5,1215.3 L535.0,1215.3 L537.5,1215.3 L540.0,1215.4 L542.5,1215.4 L545.0,1215.4 L547.5,1215.5 L550.0,1215.5 L552.5,1215.6 L555.0,1215.6 L557.5,1215.7 L560.0,1215.7 L562.5,1215.8 L565.0,1215.8 L567.5,1215.9 L570.0,1216.0 L572.5,1216.0 L575.0,1216.1 L577.5,1216.2 L580.0,1216.2 L582.5,1216.3 L585.0,1216.4 L587.5,1216.5 L590.0,1216.6 L592.5,1216.7 L595.0,1216.7 L597.5,1216.8 L600.0,1216.9 L602.5,1217.0 L605.0,1217.1 L607.5,1217.2 L610.0,1217.3 L612.5,1217.4 L615.0,1217.5 L617.4,1217.6 L619.9,1217.7 L622.4,1217.8 L624.9,1218.0 L627.4,1218.1 L629.9,1218.2 L632.4,1218.3 L634.9,1218.4 L637.4,1218.5 L639.9,1218.6 L642.4,1218.7 L644.9,1218.8 L647.4,1219.0 L649.9,1219.1 L652.4,1219.2 L654.9,1219.3 L657.4,1219.4 L659.9,1219.5 L662.4,1219.6 L664.9,1219.8 L667.4,1219.9 L669.9,1220.0 L672.4,1220.1 L674.9,1220.2 L677.4,1220.3 L679.9,1220.4 L682.4,1220.5 L684.9,1220.6 L687.4,1220.7 L689.9,1220.8 L692.4,1220.9 L694.9,1221.0 L697.4,1221.1 L699.9,1221.2 L702.4,1221.3 L704.9,1221.4 L707.4,1221.5 L709.9,1221.6 L712.3,1221.7 L714.8,1221.8 L717.3,1221.8 L719.8,1221.9 L722.3,1222.0 L724.8,1222.1 L727.3,1222.2 L729.8,1222.2 L732.3,1222.3 L734.8,1222.4 L737.3,1222.4 L739.8,1222.5 L742.3,1222.5 L744.8,1222.6 L747.3,1222.6 L749.8,1222.7 L752.3,1222.7 L754.8,1222.8 L757.3,1222.8 L759.8,1222.9 L762.3,1222.9 L764.8,1222.9 L767.3,1222.9 L769.8,1223.0 L772.3,1223.0 L774.8,1223.0 L777.3,1223.0 L779.8,1223.0 L782.3,1223.0 L784.8,1223.0 L787.3,1223.0 L789.8,1223.0 L792.3,1223.0 L794.8,1223.0 L797.3,1223.0 L799.8,1223.0 L802.3,1223.0 L804.8,1222.9 L807.3,1222.9 L809.8,1222.9 L812.3,1222.8 L814.8,1222.8 L817.3,1222.7 L819.8,1222.7 L822.3,1222.6 L824.8,1222.6 L827.3,1222.5 L829.8,1222.5 L832.3,1222.5 L834.8,1222.4 L837.3,1222.4 L839.8,1222.3 L842.3,1222.3 L844.8,1222.3 L847.3,1222.2 L849.8,1222.2 L852.3,1222.2 L854.8,1222.2 L857.3,1222.2 L859.8,1222.2 L862.3,1222.2 L864.8,1222.3 L867.3,1222.3 L869.8,1222.3 L872.3,1222.4 L874.8,1222.5 L877.3,1222.5 L879.8,1222.6 L882.3,1222.7 L884.8,1222.8 L887.3,1223.0 L889.8,1223.1 L892.3,1223.2 L894.8,1223.4 L897.2,1223.6 L899.7,1223.7 L902.2,1223.9 L904.7,1224.1 L907.2,1224.3 L909.7,1224.6 L912.2,1224.8 L914.7,1225.1 L917.2,1225.3 L919.6,1225.6 L922.1,1225.9 L924.6,1226.2 L927.1,1226.5 L929.6,1226.9 L932.1,1227.2 L934.6,1227.6 L936.1,1227.8 L950.3,1242.0 L952.8,1242.5 L955.2,1242.9 L957.7,1243.3 L960.2,1243.8 L962.7,1244.2 L965.2,1244.6 L967.6,1244.9 L970.1,1245.3 L972.6,1245.6 L975.1,1246.0 L977.6,1246.3 L980.0,1246.6 L982.5,1246.9 L985.0,1247.2 L987.5,1247.5 L990.0,1247.7 L992.5,1248.0 L995.0,1248.2 L997.4,1248.4 L999.9,1248.6 L1002.4,1248.8 L1004.9,1249.0 L1007.4,1249.2 L1009.9,1249.4 L1012.4,1249.6 L1014.9,1249.7 L1017.4,1249.9 L1019.9,1250.0 L1022.3,1250.1 L1024.8,1250.2 L1027.3,1250.3 L1029.8,1250.4 L1032.3,1250.5 L1034.8,1250.6 L1037.3,1250.7 L1039.8,1250.8 L1042.3,1250.8 L1044.8,1250.9 L1047.3,1250.9 L1049.8,1251.0 L1052.3,1251.0 L1054.8,1251.0 L1057.3,1251.0 L1059.8,1251.1 L1062.3,1251.1 L1064.8,1251.1 L1067.3,1251.1 L1069.8,1251.1 L1072.3,1251.1 L1074.8,1251.0 L1077.3,1251.0 L1079.8,1251.0 L1082.3,1251.0 L1084.8,1250.9 L1087.3,1250.9 L1089.8,1250.9 L1092.3,1250.8 L1094.8,1250.8 L1097.3,1250.7 L1099.8,1250.7 L1102.3,1250.6 L1104.8,1250.6 L1107.3,1250.5 L1109.8,1250.5 L1112.3,1250.4 L1114.9,1250.4 L1117.4,1250.3 L1119.9,1250.2 L1122.4,1250.2 L1124.9,1250.1 L1127.4,1250.1 L1129.9,1250.0 L1132.4,1249.9 L1134.9,1249.9 L1137.4,1249.8 L1139.9,1249.8 L1142.4,1249.7 L1144.9,1249.7 L1147.4,1249.6 L1149.9,1249.6 L1152.4,1249.5 L1154.9,1249.5 L1157.4,1249.4 L1159.9,1249.4 L1162.4,1249.4 L1164.9,1249.3 L1167.4,1249.3 L1169.9,1249.3 L1172.4,1249.3 L1174.9,1249.2 L1177.4,1249.2 L1179.9,1249.2 L1182.4,1249.2 L1184.9,1249.2 L1187.4,1249.2 L1189.9,1249.2 L1192.4,1249.2 L1194.9,1249.3 L1197.4,1249.3 L1199.9,1249.3 L1202.4,1249.4 L1204.9,1249.4 L1207.4,1249.5 L1209.9,1249.5 L1212.4,1249.6 L1214.9,1249.7 L1217.4,1249.8 L1219.9,1249.9 L1222.4,1250.0 L1224.9,1250.1 L1227.3,1250.2 L1229.8,1250.3 L1232.3,1250.4 L1234.8,1250.5 L1237.3,1250.7 L1239.8,1250.8 L1242.3,1251.0 L1244.8,1251.2 L1247.3,1251.3 L1249.7,1251.5 L1252.2,1251.7 L1254.7,1251.9 L1257.2,1252.1 L1259.7,1252.3 L1262.2,1252.6 L1264.6,1252.8 L1267.1,1253.1 L1269.6,1253.3 L1272.1,1253.6 L1274.6,1253.9 L1277.0,1254.1 L1279.5,1254.4 L1282.0,1254.7 L1284.5,1255.1 L1286.9,1255.4 L1289.4,1255.7 L1291.9,1256.1 L1294.4,1256.4 L1296.8,1256.8 L1299.3,1257.2 L1301.8,1257.5 L1304.2,1257.9 L1306.7,1258.3 L1309.2,1258.7 L1311.6,1259.1 L1314.1,1259.5 L1316.6,1259.9 L1319.1,1260.3 L1321.5,1260.8 L1324.0,1261.2 L1326.5,1261.6 L1328.9,1262.0 L1331.4,1262.4 L1333.8,1262.9 L1336.3,1263.3 L1338.8,1263.7 L1341.2,1264.2 L1343.7,1264.6 L1346.2,1265.0 L1348.6,1265.4 L1351.1,1265.9 L1353.6,1266.3 L1356.1,1266.7 L1358.5,1267.1 L1361.0,1267.5 L1363.5,1267.9 L1365.9,1268.3 L1368.4,1268.7 L1370.9,1269.1 L1373.3,1269.5 L1375.8,1269.9 L1378.3,1270.2 L1380.8,1270.6 L1383.2,1271.0 L1385.7,1271.3 L1388.2,1271.7 L1390.7,1272.0 L1393.1,1272.3 L1395.6,1272.7 L1398.1,1273.0 L1400.6,1273.3 L1403.1,1273.6 L1405.5,1273.9 L1408.0,1274.2 L1410.5,1274.5 L1413.0,1274.7 L1415.5,1275.0 L1417.9,1275.3 L1420.4,1275.6 L1422.9,1275.8 L1425.4,1276.1 L1427.9,1276.3 L1430.4,1276.6 L1432.9,1276.8 L1435.4,1277.0 L1437.8,1277.2 L1440.3,1277.5 L1442.8,1277.7 L1445.3,1277.9 L1447.8,1278.1 L1450.3,1278.3 L1452.8,1278.5 L1455.3,1278.7 L1457.8,1278.9 L1460.3,1279.1 L1462.7,1279.2 L1465.2,1279.4 L1467.7,1279.6 L1470.2,1279.7 L1472.7,1279.9 L1475.2,1280.0 L1477.7,1280.2 L1480.2,1280.3 L1482.7,1280.5 L1485.2,1280.6 L1487.7,1280.8 L1490.2,1280.9 L1492.7,1281.0 L1495.2,1281.1 L1497.7,1281.3 L1500.2,1281.4 L1502.7,1281.5 L1505.2,1281.6 L1507.7,1281.7 L1510.2,1281.8 L1512.7,1281.9 L1515.2,1282.0 L1517.7,1282.1 L1520.2,1282.2 L1522.7,1282.3 L1525.2,1282.3 L1527.7,1282.4 L1530.2,1282.5 L1532.7,1282.6 L1535.2,1282.7 L1537.7,1282.7 L1540.2,1282.8 L1542.7,1282.9 L1545.2,1282.9 L1547.7,1283.0 L1550.2,1283.0 L1552.7,1283.1 L1555.2,1283.2 L1557.7,1283.2 L1560.2,1283.3 L1562.7,1283.3 L1565.2,1283.4 L1567.7,1283.4 L1570.2,1283.5 L1572.7,1283.5 L1575.2,1283.6 L1577.7,1283.7 L1580.2,1283.7 L1582.7,1283.8 L1585.2,1283.8 L1587.7,1283.9 L1590.2,1283.9 L1592.7,1284.0 L1595.2,1284.0 L1597.7,1284.1 L1600.2,1284.1 L1602.7,1284.2 L1605.2,1284.3 L1607.7,1284.3 L1610.2,1284.4 L1612.7,1284.5 L1615.2,1284.5 L1617.7,1284.6 L1620.2,1284.7 L1622.7,1284.8 L1625.2,1284.8 L1627.7,1284.9 L1630.2,1285.0 L1632.7,1285.1 L1635.2,1285.2 L1637.7,1285.3 L1640.2,1285.4 L1642.7,1285.5 L1645.2,1285.6 L1647.6,1285.7 L1650.1,1285.8 L1652.6,1285.9 L1655.1,1286.1 L1657.6,1286.2 L1660.1,1286.3 L1662.6,1286.4 L1665.1,1286.6 L1667.6,1286.7 L1670.1,1286.9 L1672.6,1287.0 L1675.0,1287.2" stroke="#0000ff" stroke-width="9"/>
<path d="M270.0,1191.8 L272.5,1191.8 L275.0,1191.8 L277.5,1191.9 L280.0,1191.9 L282.5,1191.9 L285.0,1191.9 L287.5,1192.0 L290.0,1192.0 L292.5,1192.0 L295.0,1192.0 L297.5,1192.1 L300.0,1192.1 L302.5,1192.1 L305.0,1192.1 L307.5,1192.2 L310.0,1192.2 L312.5,1192.2 L315.0,1192.2 L317.5,1192.3 L320.0,1192.3 L322.5,1192.3 L325.0,1192.3 L327.5,1192.3 L330.0,1192.4 L332.5,1192.4 L335.0,1192.4 L337.5,1192.4 L340.0,1192.4 L342.5,1192.4 L345.0,1192.5 L347.5,1192.5 L350.0,1192.5 L352.5,1192.5 L355.0,1192.5 L357.5,1192.5 L360.0,1192.5 L362.5,1192.5 L365.0,1192.6 L367.5,1192.6 L370.0,1192.6 L372.5,1192.6 L375.0,1192.6 L377.5,1192.6 L380.0,1192.6 L382.5,1192.6 L385.0,1192.6 L387.5,1192.6 L390.0,1192.6 L392.5,1192.6 L395.0,1192.5 L397.5,1192.5 L400.0,1192.5 L402.5,1192.5 L405.0,1192.5 L407.5,1192.5 L410.0,1192.5 L412.5,1192.5 L415.0,1192.4 L417.5,1192.4 L420.0,1192.4 L422.5,1192.4 L425.0,1192.3 L427.5,1192.3 L430.0,1192.3 L432.5,1192.2 L435.0,1192.2 L437.5,1192.2 L440.0,1192.1 L442.5,1192.1 L445.0,1192.0 L447.5,1192.0 L450.0,1191.9 L452.5,1191.9 L455.0,1191.8 L457.5,1191.8 L460.0,1191.7 L462.5,1191.7 L465.0,1191.6 L467.5,1191.5 L470.0,1191.5 L472.5,1191.4 L475.0,1191.3 L477.5,1191.3 L480.0,1191.2 L482.5,1191.1 L485.0,1191.0 L487.5,1190.9 L490.0,1190.8 L492.5,1190.7 L495.0,1190.7 L497.5,1190.6 L500.0,1190.5 L502.5,1190.4 L505.0,1190.2 L507.5,1190.1 L510.0,1190.0 L512.5,1189.9 L515.0,1189.8 L517.5,1189.7 L520.0,1189.6 L522.5,1189.5 L525.0,1189.4 L527.5,1189.3 L530.0,1189.2 L532.5,1189.1 L535.0,1189.0 L537.5,1188.9 L540.0,1188.8 L542.5,1188.8 L545.0,1188.7 L547.5,1188.6 L550.0,1188.6 L552.5,1188.5 L555.0,1188.5 L557.5,1188.4 L560.0,1188.4 L562.5,1188.4 L565.0,1188.3 L567.5,1188.3 L570.0,1188.3 L572.5,1188.3 L575.0,1188.3 L577.5,1188.4 L580.0,1188.4 L582.4,1188.4 L584.9,1188.5 L587.4,1188.5 L589.9,1188.5 L592.4,1188.6 L594.9,1188.7 L597.4,1188.7 L599.9,1188.8 L602.4,1188.9 L604.9,1189.0 L607.4,1189.1 L609.9,1189.2 L612.4,1189.3 L614.9,1189.4 L617.4,1189.5 L619.9,1189.6 L622.4,1189.7 L624.9,1189.8 L627.4,1190.0 L629.9,1190.1 L632.4,1190.2 L634.9,1190.4 L637.4,1190.5 L639.8,1190.7 L642.3,1190.8 L644.8,1191.0 L647.3,1191.2 L649.8,1191.3 L652.3,1191.5 L654.8,1191.7 L657.3,1191.8 L659.8,1192.0 L662.3,1192.2 L664.8,1192.4 L667.3,1192.6 L669.8,1192.8 L672.3,1192.9 L674.8,1193.1 L677.3,1193.3 L679.7,1193.5 L682.2,1193.7 L684.7,1193.9 L687.2,1194.1 L689.7,1194.2 L692.2,1194.4 L694.7,1194.6 L697.2,1194.7 L699.7,1194.9 L702.2,1195.0 L704.7,1195.2 L707.2,1195.3 L709.7,1195.5 L712.2,1195.6 L714.7,1195.7 L717.2,1195.8 L719.6,1195.9 L722.1,1196.0 L724.6,1196.1 L727.1,1196.2 L729.6,1196.3 L732.1,1196.3 L734.6,1196.4 L737.1,1196.5 L739.6,1196.5 L742.1,1196.6 L744.6,1196.6 L747.1,1196.6 L749.6,1196.6 L752.1,1196.7 L754.6,1196.7 L757.1,1196.7 L759.6,1196.7 L762.1,1196.6 L764.6,1196.6 L767.1,1196.6 L769.6,1196.5 L772.1,1196.5 L774.6,1196.5 L777.1,1196.4 L779.6,1196.3 L782.1,1196.2 L784.6,1196.2 L787.1,1196.1 L789.6,1196.0 L792.1,1195.9 L794.6,1195.7 L797.1,1195.6 L799.6,1195.5 L802.1,1195.4 L804.6,1195.2 L807.1,1195.1 L809.6,1194.9 L812.1,1194.8 L814.6,1194.6 L817.1,1194.4 L819.6,1194.3 L822.1,1194.1 L824.6,1194.0 L827.1,1193.8 L829.6,1193.6 L832.1,1193.5 L834.6,1193.3 L837.1,1193.2 L839.6,1193.0 L842.1,1192.9 L844.6,1192.7 L847.1,1192.6 L849.6,1192.5 L852.1,1192.4 L854.6,1192.3 L857.1,1192.2 L859.5,1192.1 L862.0,1192.0 L864.5,1191.9 L867.0,1191.9 L869.5,1191.8 L872.0,1191.8 L874.5,1191.8 L877.0,1191.8 L879.5,1191.8 L882.0,1191.8 L884.5,1191.9 L887.0,1192.0 L889.5,1192.0 L891.9,1192.1 L894.4,1192.3 L896.9,1192.4 L899.4,1192.6 L901.9,1192.8 L904.4,1193.0 L906.9,1193.2 L909.3,1193.5 L911.8,1193.8 L914.3,1194.1 L916.8,1194.5 L919.3,1194.8 L921.7,1195.2 L924.2,1195.7 L926.7,1196.1 L929.2,1196.6 L931.6,1197.2 L934.1,1197.7 L936.1,1198.2 L947.9,1213.6 L950.3,1214.2 L952.7,1214.8 L955.2,1215.3 L957.6,1215.9 L960.0,1216.4 L962.5,1217.0 L964.9,1217.5 L967.3,1218.1 L969.8,1218.6 L972.2,1219.1 L974.7,1219.6 L977.1,1220.1 L979.6,1220.6 L982.0,1221.1 L984.5,1221.6 L987.0,1222.1 L989.4,1222.5 L991.9,1223.0 L994.3,1223.5 L996.8,1223.9 L999.3,1224.3 L1001.8,1224.8 L1004.2,1225.2 L1006.7,1225.6 L1009.2,1226.0 L1011.6,1226.4 L1014.1,1226.8 L1016.6,1227.1 L1019.1,1227.5 L1021.5,1227.8 L1024.0,1228.2 L1026.5,1228.5 L1029.0,1228.8 L1031.5,1229.2 L1033.9,1229.5 L1036.4,1229.7 L1038.9,1230.0 L1041.4,1230.3 L1043.9,1230.6 L1046.4,1230.8 L1048.8,1231.0 L1051.3,1231.3 L1053.8,1231.5 L1056.3,1231.7 L1058.8,1231.9 L1061.3,1232.1 L1063.7,1232.2 L1066.2,1232.4 L1068.7,1232.5 L1071.2,1232.7 L1073.7,1232.8 L1076.2,1232.9 L1078.7,1233.0 L1081.1,1233.1 L1083.6,1233.2 L1086.1,1233.3 L1088.6,1233.3 L1091.1,1233.3 L1093.6,1233.4 L1096.1,1233.4 L1098.6,1233.4 L1101.1,1233.4 L1103.6,1233.4 L1106.1,1233.3 L1108.6,1233.3 L1111.1,1233.2 L1113.6,1233.2 L1116.1,1233.1 L1118.6,1233.0 L1121.1,1232.9 L1123.6,1232.8 L1126.1,1232.6 L1128.6,1232.5 L1131.1,1232.3 L1133.6,1232.2 L1136.1,1232.0 L1138.6,1231.9 L1141.1,1231.7 L1143.6,1231.5 L1146.1,1231.3 L1148.6,1231.1 L1151.1,1231.0 L1153.7,1230.8 L1156.2,1230.6 L1158.7,1230.4 L1161.2,1230.2 L1163.7,1230.0 L1166.2,1229.8 L1168.7,1229.6 L1171.2,1229.4 L1173.7,1229.3 L1176.2,1229.1 L1178.7,1228.9 L1181.2,1228.8 L1183.7,1228.6 L1186.2,1228.5 L1188.8,1228.3 L1191.3,1228.2 L1193.8,1228.1 L1196.3,1228.0 L1198.8,1227.9 L1201.3,1227.8 L1203.8,1227.7 L1206.2,1227.7 L1208.7,1227.6 L1211.2,1227.6 L1213.7,1227.6 L1216.2,1227.6 L1218.7,1227.6 L1221.2,1227.7 L1223.7,1227.7 L1226.2,1227.8 L1228.6,1227.9 L1231.1,1228.1 L1233.6,1228.2 L1236.1,1228.4 L1238.5,1228.6 L1241.0,1228.8 L1243.5,1229.0 L1245.9,1229.3 L1248.4,1229.6 L1250.9,1229.9 L1253.3,1230.3 L1255.8,1230.6 L1258.2,1231.0 L1260.7,1231.4 L1263.1,1231.9 L1265.6,1232.3 L1268.0,1232.8 L1270.5,1233.3 L1272.9,1233.8 L1275.4,1234.3 L1277.8,1234.8 L1280.2,1235.4 L1282.7,1235.9 L1285.1,1236.5 L1287.6,1237.1 L1290.0,1237.6 L1292.4,1238.2 L1294.9,1238.8 L1297.3,1239.4 L1299.7,1240.0 L1302.2,1240.7 L1304.6,1241.3 L1307.0,1241.9 L1309.5,1242.5 L1311.9,1243.1 L1314.3,1243.7 L1316.8,1244.4 L1319.2,1245.0 L1321.6,1245.6 L1324.1,1246.2 L1326.5,1246.8 L1328.9,1247.4 L1331.4,1248.0 L1333.8,1248.6 L1336.2,1249.2 L1338.7,1249.8 L1341.1,1250.4 L1343.6,1250.9 L1346.0,1251.5 L1348.4,1252.1 L1350.9,1252.6 L1353.3,1253.2 L1355.7,1253.8 L1358.2,1254.3 L1360.6,1254.9 L1363.1,1255.4 L1365.5,1256.0 L1368.0,1256.5 L1370.4,1257.0 L1372.8,1257.6 L1375.3,1258.1 L1377.7,1258.6 L1380.2,1259.1 L1382.6,1259.6 L1385.1,1260.1 L1387.5,1260.6 L1390.0,1261.1 L1392.4,1261.6 L1394.9,1262.1 L1397.3,1262.6 L1399.8,1263.0 L1402.2,1263.5 L1404.7,1263.9 L1407.1,1264.4 L1409.6,1264.8 L1412.0,1265.3 L1414.5,1265.7 L1417.0,1266.1 L1419.4,1266.6 L1421.9,1267.0 L1424.3,1267.4 L1426.8,1267.8 L1429.3,1268.2 L1431.7,1268.6 L1434.2,1268.9 L1436.7,1269.3 L1439.1,1269.7 L1441.6,1270.0 L1444.1,1270.4 L1446.5,1270.7 L1449.0,1271.1 L1451.5,1271.4 L1453.9,1271.7 L1456.4,1272.0 L1458.9,1272.3 L1461.4,1272.6 L1463.8,1272.9 L1466.3,1273.2 L1468.8,1273.5 L1471.3,1273.7 L1473.8,1274.0 L1476.3,1274.2 L1478.7,1274.5 L1481.2,1274.7 L1483.7,1274.9 L1486.2,1275.1 L1488.7,1275.3 L1491.2,1275.5 L1493.7,1275.7 L1496.2,1275.9 L1498.7,1276.1 L1501.2,1276.3 L1503.7,1276.4 L1506.2,1276.6 L1508.7,1276.7 L1511.2,1276.9 L1513.7,1277.0 L1516.2,1277.2 L1518.7,1277.3 L1521.2,1277.4 L1523.7,1277.6 L1526.2,1277.7 L1528.7,1277.8 L1531.2,1277.9 L1533.7,1278.0 L1536.2,1278.1 L1538.7,1278.2 L1541.2,1278.3 L1543.7,1278.4 L1546.2,1278.5 L1548.7,1278.6 L1551.2,1278.7 L1553.7,1278.8 L1556.2,1278.9 L1558.7,1279.0 L1561.2,1279.1 L1563.7,1279.2 L1566.2,1279.3 L1568.8,1279.4 L1571.3,1279.5 L1573.8,1279.6 L1576.3,1279.7 L1578.8,1279.8 L1581.3,1279.9 L1583.8,1280.0 L1586.3,1280.1 L1588.8,1280.2 L1591.3,1280.3 L1593.8,1280.4 L1596.3,1280.6 L1598.8,1280.7 L1601.3,1280.8 L1603.8,1280.9 L1606.3,1281.1 L1608.8,1281.2 L1611.3,1281.4 L1613.8,1281.5 L1616.3,1281.7 L1618.8,1281.8 L1621.3,1282.0 L1623.8,1282.2 L1626.2,1282.4 L1628.7,1282.5 L1631.2,1282.7 L1633.7,1282.9 L1636.2,1283.1 L1638.7,1283.4 L1641.2,1283.6 L1643.6,1283.8 L1646.1,1284.1 L1648.6,1284.3 L1651.1,1284.6 L1653.6,1284.8 L1655.0,1285.0" stroke="#ff00ff" stroke-width="9"/>
<path d="M270.0,1181.5 L272.5,1181.3 L275.0,1181.1 L277.5,1180.9 L280.0,1180.7 L282.4,1180.5 L284.9,1180.3 L287.4,1180.2 L289.9,1180.0 L292.4,1179.9 L294.9,1179.8 L297.4,1179.6 L299.9,1179.5 L302.4,1179.4 L304.9,1179.3 L307.4,1179.2 L309.9,1179.1 L312.4,1179.0 L314.9,1179.0 L317.4,1178.9 L319.9,1178.8 L322.4,1178.8 L324.9,1178.7 L327.4,1178.6 L329.9,1178.6 L332.4,1178.6 L334.9,1178.5 L337.4,1178.5 L339.9,1178.4 L342.4,1178.4 L344.9,1178.4 L347.4,1178.3 L349.9,1178.3 L352.4,1178.3 L354.9,1178.3 L357.5,1178.2 L360.0,1178.2 L362.5,1178.2 L365.0,1178.2 L367.5,1178.2 L370.0,1178.1 L372.5,1178.1 L375.0,1178.1 L377.5,1178.1 L380.0,1178.0 L382.5,1178.0 L385.0,1178.0 L387.5,1177.9 L390.0,1177.9 L392.5,1177.9 L395.0,1177.8 L397.5,1177.8 L400.0,1177.7 L402.5,1177.6 L405.0,1177.6 L407.5,1177.5 L410.0,1177.4 L412.5,1177.4 L415.0,1177.3 L417.5,1177.2 L420.0,1177.1 L422.5,1177.0 L425.0,1176.9 L427.5,1176.8 L430.0,1176.7 L432.5,1176.5 L435.0,1176.4 L437.4,1176.3 L439.9,1176.1 L442.4,1176.0 L444.9,1175.8 L447.4,1175.7 L449.9,1175.5 L452.4,1175.3 L454.9,1175.2 L457.4,1175.0 L459.8,1174.8 L462.3,1174.7 L464.8,1174.5 L467.3,1174.3 L469.8,1174.1 L472.3,1173.9 L474.8,1173.7 L477.3,1173.5 L479.7,1173.3 L482.2,1173.1 L484.7,1172.9 L487.2,1172.7 L489.7,1172.5 L492.2,1172.3 L494.7,1172.1 L497.2,1171.9 L499.6,1171.7 L502.1,1171.4 L504.6,1171.2 L507.1,1171.0 L509.6,1170.8 L512.1,1170.6 L514.6,1170.4 L517.1,1170.2 L519.6,1169.9 L522.1,1169.7 L524.6,1169.5 L527.1,1169.3 L529.5,1169.1 L532.0,1168.9 L534.5,1168.7 L537.0,1168.5 L539.5,1168.3 L542.0,1168.1 L544.5,1167.9 L547.0,1167.7 L549.5,1167.5 L552.0,1167.3 L554.5,1167.2 L557.0,1167.0 L559.5,1166.8 L562.0,1166.7 L564.5,1166.5 L567.0,1166.4 L569.5,1166.2 L572.0,1166.1 L574.5,1166.0 L577.0,1165.9 L579.5,1165.8 L582.0,1165.7 L584.5,1165.6 L587.0,1165.5 L589.5,1165.4 L592.0,1165.4 L594.5,1165.3 L597.0,1165.3 L599.5,1165.2 L602.0,1165.2 L604.5,1165.2 L607.0,1165.2 L609.5,1165.2 L612.0,1165.3 L614.5,1165.3 L617.0,1165.4 L619.5,1165.4 L622.0,1165.5 L624.5,1165.6 L626.9,1165.7 L629.4,1165.8 L631.9,1166.0 L634.4,1166.1 L636.9,1166.3 L639.4,1166.5 L641.9,1166.7 L644.4,1166.9 L646.9,1167.1 L649.3,1167.4 L651.8,1167.7 L654.3,1167.9 L656.8,1168.3 L659.3,1168.6 L661.8,1168.9 L664.2,1169.3 L666.7,1169.7 L669.2,1170.0 L671.7,1170.4 L674.1,1170.8 L676.6,1171.2 L679.1,1171.6 L681.6,1172.0 L684.1,1172.3 L686.5,1172.7 L689.0,1173.0 L691.5,1173.4 L694.0,1173.7 L696.5,1173.9 L698.9,1174.2 L701.4,1174.4 L703.9,1174.5 L706.4,1174.7 L708.9,1174.8 L711.4,1174.9 L713.9,1175.0 L716.4,1175.0 L718.8,1175.0 L721.3,1175.1 L723.8,1175.0 L726.3,1175.0 L728.8,1175.0 L731.3,1175.0 L733.8,1174.9 L736.3,1174.9 L738.8,1174.8 L741.3,1174.8 L743.8,1174.8 L746.4,1174.7 L748.9,1174.7 L751.4,1174.7 L753.9,1174.7 L756.4,1174.7 L758.9,1174.6 L761.4,1174.6 L763.9,1174.6 L766.4,1174.6 L768.9,1174.5 L771.4,1174.5 L773.9,1174.4 L776.4,1174.4 L778.9,1174.3 L781.4,1174.1 L783.9,1174.0 L786.4,1173.8 L788.9,1173.6 L791.4,1173.4 L793.8,1173.2 L796.3,1172.9 L798.8,1172.6 L801.3,1172.2 L803.7,1171.9 L806.2,1171.5 L808.6,1171.1 L811.1,1170.6 L813.6,1170.2 L816.0,1169.8 L818.5,1169.3 L820.9,1168.9 L823.4,1168.4 L825.9,1168.0 L828.3,1167.5 L830.8,1167.1 L833.3,1166.7 L835.8,1166.3 L838.2,1165.9 L840.7,1165.5 L843.2,1165.2 L845.7,1164.8 L848.2,1164.5 L850.6,1164.2 L853.1,1163.9 L855.6,1163.7 L858.1,1163.4 L860.6,1163.2 L863.1,1163.0 L865.6,1162.8 L868.1,1162.6 L870.6,1162.5 L873.1,1162.4 L875.6,1162.3 L878.1,1162.2 L880.6,1162.2 L883.1,1162.2 L885.6,1162.2 L888.0,1162.3 L890.5,1162.3 L893.0,1162.4 L895.5,1162.6 L898.0,1162.7 L900.5,1162.9 L903.0,1163.1 L905.4,1163.4 L907.9,1163.7 L910.4,1164.0 L912.9,1164.4 L915.3,1164.8 L917.8,1165.2 L920.3,1165.7 L922.7,1166.2 L925.2,1166.8 L927.6,1167.3 L930.1,1168.0 L932.5,1168.6 L935.0,1169.4 L936.1,1169.7 L947.9,1181.6 L950.2,1182.5 L952.6,1183.4 L954.9,1184.2 L957.3,1185.1 L959.6,1185.9 L962.0,1186.8 L964.3,1187.6 L966.7,1188.4 L969.1,1189.2 L971.5,1190.0 L973.8,1190.8 L976.2,1191.6 L978.6,1192.3 L981.0,1193.1 L983.4,1193.8 L985.8,1194.5 L988.2,1195.2 L990.6,1195.9 L993.0,1196.6 L995.4,1197.3 L997.8,1197.9 L1000.2,1198.6 L1002.6,1199.2 L1005.0,1199.8 L1007.5,1200.4 L1009.9,1201.0 L1012.3,1201.6 L1014.8,1202.1 L1017.2,1202.7 L1019.6,1203.2 L1022.1,1203.7 L1024.5,1204.2 L1027.0,1204.7 L1029.4,1205.2 L1031.9,1205.7 L1034.4,1206.1 L1036.8,1206.5 L1039.3,1206.9 L1041.8,1207.3 L1044.2,1207.7 L1046.7,1208.1 L1049.2,1208.4 L1051.7,1208.7 L1054.1,1209.1 L1056.6,1209.4 L1059.1,1209.6 L1061.6,1209.9 L1064.1,1210.1 L1066.6,1210.4 L1069.1,1210.6 L1071.6,1210.7 L1074.1,1210.9 L1076.6,1211.1 L1079.1,1211.2 L1081.6,1211.3 L1084.1,1211.4 L1086.6,1211.5 L1089.1,1211.6 L1091.6,1211.6 L1094.1,1211.6 L1096.6,1211.6 L1099.1,1211.6 L1101.6,1211.6 L1104.1,1211.5 L1106.6,1211.4 L1109.1,1211.3 L1111.6,1211.2 L1114.1,1211.1 L1116.6,1210.9 L1119.1,1210.8 L1121.5,1210.6 L1124.0,1210.4 L1126.5,1210.1 L1129.0,1209.9 L1131.5,1209.6 L1133.9,1209.3 L1136.4,1209.0 L1138.9,1208.7 L1141.3,1208.3 L1143.8,1208.0 L1146.3,1207.6 L1148.7,1207.3 L1151.2,1206.9 L1153.7,1206.6 L1156.1,1206.2 L1158.6,1205.9 L1161.1,1205.5 L1163.6,1205.2 L1166.1,1204.8 L1168.5,1204.5 L1171.0,1204.2 L1173.5,1203.9 L1176.0,1203.5 L1178.5,1203.3 L1181.0,1203.0 L1183.5,1202.7 L1186.0,1202.4 L1188.5,1202.2 L1191.0,1202.0 L1193.6,1201.7 L1196.1,1201.5 L1198.6,1201.4 L1201.1,1201.2 L1203.6,1201.0 L1206.1,1200.9 L1208.6,1200.8 L1211.1,1200.7 L1213.6,1200.6 L1216.1,1200.6 L1218.6,1200.5 L1221.1,1200.5 L1223.6,1200.5 L1226.1,1200.6 L1228.6,1200.6 L1231.1,1200.7 L1233.6,1200.8 L1236.1,1200.9 L1238.6,1201.1 L1241.1,1201.3 L1243.5,1201.5 L1246.0,1201.7 L1248.5,1202.0 L1250.9,1202.3 L1253.4,1202.6 L1255.8,1203.0 L1258.3,1203.4 L1260.7,1203.8 L1263.2,1204.3 L1265.6,1204.8 L1268.0,1205.3 L1270.4,1205.9 L1272.9,1206.5 L1275.3,1207.1 L1277.7,1207.7 L1280.1,1208.4 L1282.4,1209.2 L1284.8,1209.9 L1287.2,1210.7 L1289.6,1211.5 L1292.0,1212.3 L1294.3,1213.1 L1296.7,1214.0 L1299.0,1214.8 L1301.4,1215.7 L1303.7,1216.6 L1306.1,1217.5 L1308.4,1218.5 L1310.8,1219.4 L1313.1,1220.3 L1315.5,1221.3 L1317.8,1222.2 L1320.1,1223.2 L1322.5,1224.1 L1324.8,1225.1 L1327.1,1226.0 L1329.5,1227.0 L1331.8,1227.9 L1334.1,1228.8 L1336.5,1229.8 L1338.8,1230.7 L1341.1,1231.6 L1343.5,1232.5 L1345.8,1233.4 L1348.1,1234.2 L1350.5,1235.1 L1352.8,1236.0 L1355.2,1236.8 L1357.5,1237.7 L1359.8,1238.6 L1362.2,1239.4 L1364.5,1240.3 L1366.8,1241.2 L1369.1,1242.0 L1371.5,1242.9 L1373.8,1243.8 L1376.1,1244.7 L1378.4,1245.6 L1380.7,1246.5 L1383.0,1247.5 L1385.3,1248.4 L1387.6,1249.3 L1390.0,1250.2 L1392.3,1251.1 L1394.6,1252.0 L1396.9,1252.8 L1399.3,1253.7 L1401.6,1254.5 L1404.0,1255.3 L1406.4,1256.0 L1408.7,1256.8 L1411.1,1257.5 L1413.5,1258.2 L1415.9,1258.8 L1418.3,1259.5 L1420.7,1260.1 L1423.2,1260.7 L1425.6,1261.3 L1428.0,1261.9 L1430.4,1262.4 L1432.9,1262.9 L1435.3,1263.5 L1437.8,1264.0 L1440.2,1264.4 L1442.7,1264.9 L1445.2,1265.4 L1447.6,1265.8 L1450.1,1266.2 L1452.6,1266.6 L1455.0,1267.0 L1457.5,1267.4 L1460.0,1267.7 L1462.5,1268.1 L1465.0,1268.4 L1467.5,1268.7 L1469.9,1269.0 L1472.4,1269.3 L1474.9,1269.6 L1477.4,1269.8 L1479.9,1270.0 L1482.4,1270.3 L1484.9,1270.5 L1487.4,1270.7 L1489.9,1270.9 L1492.4,1271.1 L1494.9,1271.2 L1497.4,1271.4 L1499.9,1271.5 L1502.4,1271.6 L1504.9,1271.7 L1507.4,1271.8 L1509.9,1271.9 L1512.4,1272.0 L1514.9,1272.1 L1517.4,1272.2 L1519.9,1272.2 L1522.4,1272.3 L1524.9,1272.3 L1527.4,1272.3 L1529.9,1272.4 L1532.4,1272.4 L1534.9,1272.4 L1537.4,1272.4 L1539.9,1272.4 L1542.4,1272.4 L1544.9,1272.3 L1547.4,1272.3 L1549.9,1272.3 L1552.4,1272.2 L1554.9,1272.2 L1557.4,1272.2 L1559.9,1272.1 L1562.4,1272.1 L1564.9,1272.0 L1567.4,1272.0 L1569.9,1271.9 L1572.4,1271.8 L1574.9,1271.8 L1577.4,1271.7 L1579.9,1271.6 L1582.4,1271.6 L1584.9,1271.5 L1587.4,1271.4 L1589.9,1271.4 L1592.4,1271.3 L1594.9,1271.2 L1597.4,1271.2 L1599.9,1271.1 L1602.4,1271.0 L1604.9,1271.0 L1607.4,1270.9 L1609.9,1270.8 L1612.4,1270.8 L1614.9,1270.7 L1617.4,1270.7 L1619.9,1270.6 L1622.4,1270.6 L1624.9,1270.6 L1627.4,1270.5 L1629.9,1270.5 L1632.4,1270.5 L1634.9,1270.5 L1637.4,1270.5 L1639.9,1270.4 L1642.4,1270.4 L1644.9,1270.4 L1647.4,1270.4 L1649.9,1270.4 L1652.4,1270.5 L1654.9,1270.5 L1657.4,1270.5 L1659.9,1270.5 L1662.4,1270.5 L1664.9,1270.6 L1667.4,1270.6 L1669.9,1270.6 L1672.4,1270.7 L1674.9,1270.7 L1677.4,1270.8 L1679.9,1270.8 L1682.4,1270.9 L1684.9,1270.9 L1687.4,1271.0 L1689.9,1271.0 L1692.4,1271.1 L1694.9,1271.2 L1697.4,1271.3 L1699.9,1271.3 L1702.4,1271.4 L1704.8,1271.5 L1707.3,1271.6 L1709.8,1271.7 L1712.3,1271.8 L1714.8,1271.9 L1717.3,1272.0 L1719.8,1272.1 L1722.3,1272.2 L1724.8,1272.3 L1727.3,1272.4 L1729.8,1272.5 L1732.3,1272.6 L1734.8,1272.8 L1737.3,1272.9 L1739.8,1273.0 L1742.3,1273.2 L1744.8,1273.3 L1747.3,1273.4 L1749.8,1273.6 L1752.3,1273.7 L1754.8,1273.9 L1757.3,1274.0 L1759.8,1274.1 L1762.2,1274.3 L1764.7,1274.5 L1767.2,1274.6 L1769.7,1274.8 L1772.2,1274.9 L1774.7,1275.1 L1777.2,1275.3 L1779.7,1275.4 L1782.2,1275.6 L1784.7,1275.8 L1787.2,1276.0 L1789.7,1276.2 L1792.2,1276.3 L1794.7,1276.5 L1797.2,1276.7 L1799.7,1276.9 L1802.1,1277.1 L1804.6,1277.3 L1807.1,1277.5 L1809.6,1277.7 L1812.1,1277.9 L1814.6,1278.1 L1817.1,1278.3 L1819.6,1278.5 L1822.1,1278.7 L1824.6,1278.9 L1827.1,1279.1 L1829.6,1279.3 L1832.0,1279.6 L1834.5,1279.8 L1837.0,1280.0 L1839.5,1280.2 L1842.0,1280.4 L1844.5,1280.7 L1847.0,1280.9 L1849.5,1281.1 L1852.0,1281.3 L1854.5,1281.6 L1857.0,1281.8 L1859.4,1282.0 L1861.9,1282.3 L1864.4,1282.5 L1866.9,1282.7 L1869.4,1283.0 L1871.9,1283.2 L1874.4,1283.5 L1876.9,1283.7 L1879.4,1284.0 L1881.8,1284.2 L1884.3,1284.5 L1886.8,1284.7 L1889.3,1285.0 L1891.8,1285.2 L1894.3,1285.5 L1896.8,1285.7 L1899.3,1286.0 L1901.7,1286.2 L1904.2,1286.5 L1906.7,1286.7 L1909.2,1287.0 L1911.7,1287.2 L1914.2,1287.5 L1916.7,1287.8 L1919.2,1288.0 L1921.6,1288.3 L1924.1,1288.6 L1926.6,1288.8 L1929.1,1289.1 L1931.6,1289.4 L1934.1,1289.6 L1936.6,1289.9 L1939.0,1290.2 L1941.5,1290.4 L1944.0,1290.7 L1946.5,1291.0 L1949.0,1291.2 L1951.5,1291.5 L1951.5,1291.5" stroke="#808000" stroke-width="9"/>
<path d="M270.0,1142.1 L272.4,1141.4 L274.9,1140.8 L277.3,1140.2 L279.8,1139.6 L282.2,1139.1 L284.7,1138.5 L287.1,1138.1 L289.6,1137.6 L292.1,1137.2 L294.5,1136.8 L297.0,1136.4 L299.5,1136.1 L302.0,1135.7 L304.4,1135.4 L306.9,1135.1 L309.4,1134.9 L311.9,1134.6 L314.4,1134.4 L316.9,1134.2 L319.3,1134.0 L321.8,1133.8 L324.3,1133.7 L326.8,1133.5 L329.3,1133.4 L331.8,1133.3 L334.3,1133.2 L336.8,1133.1 L339.3,1133.0 L341.8,1132.9 L344.3,1132.8 L346.8,1132.7 L349.3,1132.7 L351.8,1132.6 L354.3,1132.5 L356.8,1132.5 L359.3,1132.4 L361.8,1132.3 L364.3,1132.3 L366.8,1132.2 L369.3,1132.1 L371.8,1132.1 L374.3,1132.0 L376.8,1131.9 L379.3,1131.8 L381.8,1131.7 L384.3,1131.6 L386.8,1131.5 L389.3,1131.3 L391.8,1131.2 L394.3,1131.0 L396.8,1130.8 L399.2,1130.6 L401.7,1130.4 L404.2,1130.2 L406.7,1130.0 L409.2,1129.7 L411.7,1129.5 L414.1,1129.2 L416.6,1129.0 L419.1,1128.7 L421.6,1128.4 L424.1,1128.1 L426.6,1127.9 L429.0,1127.6 L431.5,1127.3 L434.0,1127.0 L436.5,1126.8 L439.0,1126.5 L441.5,1126.3 L444.0,1126.0 L446.5,1125.8 L449.0,1125.6 L451.5,1125.3 L454.0,1125.1 L456.5,1124.8 L459.0,1124.6 L461.5,1124.3 L463.9,1124.0 L466.4,1123.7 L468.9,1123.4 L471.4,1123.1 L473.8,1122.7 L476.3,1122.3 L478.8,1121.9 L481.2,1121.4 L483.6,1120.9 L486.1,1120.4 L488.5,1119.9 L490.9,1119.4 L493.3,1118.8 L495.8,1118.2 L498.2,1117.6 L500.6,1116.9 L503.0,1116.3 L505.4,1115.6 L507.8,1114.9 L510.2,1114.2 L512.6,1113.5 L515.0,1112.7 L517.4,1112.0 L519.8,1111.2 L522.2,1110.5 L524.6,1109.7 L526.9,1108.9 L529.3,1108.2 L531.7,1107.4 L534.1,1106.6 L536.5,1105.9 L538.9,1105.1 L541.3,1104.3 L543.7,1103.6 L546.1,1102.9 L548.5,1102.2 L550.9,1101.4 L553.3,1100.8 L555.7,1100.1 L558.1,1099.4 L560.6,1098.8 L563.0,1098.2 L565.4,1097.6 L567.8,1097.0 L570.3,1096.5 L572.7,1096.0 L575.1,1095.5 L577.6,1095.1 L580.0,1094.7 L582.5,1094.3 L585.0,1094.0 L587.4,1093.7 L589.9,1093.5 L592.4,1093.3 L594.9,1093.1 L597.3,1093.0 L599.8,1092.9 L602.3,1092.9 L604.9,1092.9 L607.4,1093.0 L609.9,1093.0 L612.4,1093.1 L614.9,1093.3 L617.4,1093.5 L619.9,1093.6 L622.4,1093.8 L624.9,1094.1 L627.4,1094.3 L629.9,1094.5 L632.4,1094.8 L634.9,1095.0 L637.4,1095.3 L639.9,1095.6 L642.4,1095.9 L644.8,1096.3 L647.3,1096.6 L649.7,1097.0 L652.2,1097.4 L654.6,1097.8 L657.1,1098.2 L659.5,1098.7 L662.0,1099.2 L664.4,1099.7 L666.8,1100.2 L669.3,1100.7 L671.7,1101.3 L674.1,1101.8 L676.5,1102.3 L678.9,1102.9 L681.4,1103.4 L683.8,1103.9 L686.2,1104.4 L688.7,1104.9 L691.1,1105.3 L693.6,1105.7 L696.0,1106.1 L698.5,1106.5 L701.0,1106.8 L703.5,1107.0 L706.0,1107.2 L708.5,1107.4 L711.0,1107.6 L713.5,1107.7 L716.0,1107.8 L718.5,1107.8 L721.0,1107.8 L723.5,1107.8 L726.1,1107.8 L728.6,1107.7 L731.1,1107.7 L733.6,1107.6 L736.1,1107.5 L738.6,1107.4 L741.1,1107.2 L743.6,1107.1 L746.1,1106.9 L748.6,1106.7 L751.1,1106.5 L753.6,1106.3 L756.1,1106.1 L758.6,1105.8 L761.0,1105.5 L763.5,1105.2 L766.0,1104.9 L768.4,1104.6 L770.9,1104.2 L773.3,1103.8 L775.8,1103.4 L778.2,1103.0 L780.7,1102.5 L783.1,1102.0 L785.5,1101.5 L787.9,1101.0 L790.4,1100.4 L792.8,1099.8 L795.2,1099.2 L797.6,1098.6 L800.0,1097.9 L802.4,1097.2 L804.8,1096.4 L807.1,1095.7 L809.5,1094.9 L811.9,1094.0 L814.3,1093.2 L816.6,1092.3 L819.0,1091.4 L821.3,1090.5 L823.7,1089.6 L826.1,1088.7 L828.4,1087.7 L830.8,1086.8 L833.1,1085.8 L835.5,1084.9 L837.8,1084.0 L840.2,1083.0 L842.5,1082.1 L844.9,1081.2 L847.2,1080.3 L849.6,1079.4 L851.9,1078.5 L854.3,1077.6 L856.7,1076.8 L859.0,1076.0 L861.4,1075.3 L863.8,1074.5 L866.2,1073.8 L868.6,1073.1 L871.0,1072.5 L873.4,1071.9 L875.8,1071.4 L878.2,1070.9 L880.6,1070.5 L883.0,1070.1 L885.5,1069.8 L887.9,1069.5 L890.4,1069.3 L892.9,1069.2 L895.3,1069.1 L897.8,1069.1 L900.3,1069.2 L902.8,1069.3 L905.3,1069.5 L907.8,1069.8 L910.4,1070.2 L912.9,1070.6 L915.4,1071.2 L917.8,1071.8 L920.3,1072.5 L922.7,1073.2 L925.1,1074.1 L927.4,1075.0 L929.7,1076.0 L932.0,1077.1 L934.2,1078.3 L936.3,1079.6 L938.4,1080.9 L947.9,1101.1 L949.9,1102.5 L951.9,1103.9 L953.9,1105.3 L956.0,1106.7 L958.0,1108.1 L960.0,1109.5 L962.1,1110.9 L964.2,1112.3 L966.2,1113.7 L968.3,1115.1 L970.4,1116.5 L972.5,1117.9 L974.6,1119.3 L976.7,1120.6 L978.8,1122.0 L980.9,1123.4 L983.0,1124.7 L985.2,1126.1 L987.3,1127.4 L989.5,1128.7 L991.6,1130.0 L993.8,1131.3 L996.0,1132.6 L998.2,1133.9 L1000.4,1135.1 L1002.6,1136.3 L1004.8,1137.6 L1007.0,1138.7 L1009.3,1139.9 L1011.5,1141.1 L1013.7,1142.2 L1016.0,1143.3 L1018.3,1144.4 L1020.5,1145.5 L1022.8,1146.5 L1025.1,1147.6 L1027.4,1148.5 L1029.7,1149.5 L1032.0,1150.4 L1034.4,1151.4 L1036.7,1152.2 L1039.0,1153.1 L1041.4,1153.9 L1043.8,1154.7 L1046.1,1155.4 L1048.5,1156.2 L1050.9,1156.9 L1053.3,1157.5 L1055.7,1158.1 L1058.1,1158.7 L1060.6,1159.2 L1063.0,1159.7 L1065.4,1160.2 L1067.9,1160.6 L1070.4,1161.0 L1072.8,1161.4 L1075.3,1161.7 L1077.8,1162.0 L1080.2,1162.2 L1082.7,1162.5 L1085.2,1162.6 L1087.7,1162.8 L1090.2,1162.9 L1092.7,1163.0 L1095.2,1163.0 L1097.7,1163.0 L1100.2,1163.0 L1102.7,1162.9 L1105.1,1162.8 L1107.6,1162.7 L1110.1,1162.5 L1112.6,1162.3 L1115.1,1162.0 L1117.6,1161.8 L1120.1,1161.5 L1122.5,1161.1 L1125.0,1160.7 L1127.5,1160.3 L1129.9,1159.9 L1132.4,1159.4 L1134.8,1158.9 L1137.3,1158.4 L1139.7,1157.9 L1142.2,1157.3 L1144.6,1156.7 L1147.0,1156.1 L1149.5,1155.5 L1151.9,1154.8 L1154.3,1154.2 L1156.8,1153.5 L1159.2,1152.9 L1161.6,1152.2 L1164.1,1151.5 L1166.5,1150.9 L1168.9,1150.2 L1171.4,1149.5 L1173.8,1148.9 L1176.2,1148.2 L1178.7,1147.6 L1181.1,1147.0 L1183.6,1146.4 L1186.0,1145.8 L1188.5,1145.2 L1191.0,1144.6 L1193.4,1144.1 L1195.9,1143.6 L1198.4,1143.1 L1200.9,1142.7 L1203.4,1142.3 L1205.9,1141.9 L1208.4,1141.6 L1210.9,1141.3 L1213.4,1141.0 L1215.9,1140.7 L1218.4,1140.6 L1221.0,1140.4 L1223.5,1140.3 L1226.0,1140.2 L1228.5,1140.2 L1231.0,1140.3 L1233.4,1140.3 L1235.9,1140.5 L1238.4,1140.6 L1240.8,1140.9 L1243.3,1141.2 L1245.7,1141.5 L1248.1,1141.9 L1250.5,1142.4 L1252.9,1142.9 L1255.3,1143.5 L1257.6,1144.2 L1260.0,1144.9 L1262.3,1145.7 L1264.6,1146.5 L1266.9,1147.4 L1269.1,1148.3 L1271.4,1149.3 L1273.6,1150.4 L1275.8,1151.5 L1278.0,1152.6 L1280.2,1153.8 L1282.3,1155.0 L1284.5,1156.2 L1286.6,1157.5 L1288.8,1158.9 L1290.9,1160.2 L1293.0,1161.6 L1295.1,1163.0 L1297.2,1164.4 L1299.2,1165.9 L1301.3,1167.4 L1303.3,1168.8 L1305.4,1170.3 L1307.4,1171.8 L1309.4,1173.4 L1311.4,1174.9 L1313.4,1176.4 L1315.4,1178.0 L1317.4,1179.5 L1319.4,1181.1 L1321.4,1182.7 L1323.3,1184.2 L1325.3,1185.8 L1327.3,1187.4 L1329.2,1189.0 L1331.2,1190.6 L1333.2,1192.2 L1335.1,1193.8 L1337.1,1195.3 L1339.0,1196.9 L1341.0,1198.5 L1342.9,1200.1 L1344.9,1201.7 L1346.8,1203.3 L1348.8,1204.8 L1350.7,1206.4 L1352.7,1208.0 L1354.7,1209.5 L1356.6,1211.1 L1358.6,1212.6 L1360.6,1214.2 L1362.6,1215.7 L1364.6,1217.2 L1366.6,1218.7 L1368.6,1220.2 L1370.6,1221.6 L1372.6,1223.1 L1374.6,1224.5 L1376.6,1226.0 L1378.7,1227.4 L1380.8,1228.8 L1382.8,1230.1 L1384.9,1231.5 L1387.0,1232.8 L1389.1,1234.1 L1391.2,1235.4 L1393.3,1236.7 L1395.5,1237.9 L1397.6,1239.2 L1399.8,1240.4 L1402.0,1241.5 L1404.2,1242.7 L1406.4,1243.8 L1408.6,1244.9 L1410.9,1246.0 L1413.1,1247.0 L1415.4,1248.1 L1417.7,1249.1 L1420.0,1250.1 L1422.3,1251.0 L1424.6,1252.0 L1426.9,1252.9 L1429.2,1253.8 L1431.6,1254.6 L1433.9,1255.5 L1436.3,1256.3 L1438.7,1257.1 L1441.1,1257.9 L1443.4,1258.6 L1445.8,1259.4 L1448.2,1260.1 L1450.7,1260.8 L1453.1,1261.5 L1455.5,1262.1 L1457.9,1262.7 L1460.4,1263.4 L1462.8,1263.9 L1465.3,1264.5 L1467.7,1265.1 L1470.2,1265.6 L1472.6,1266.1 L1475.1,1266.6 L1477.6,1267.0 L1480.0,1267.5 L1482.5,1267.9 L1485.0,1268.3 L1487.4,1268.7 L1489.9,1269.1 L1492.4,1269.4 L1494.9,1269.8 L1497.4,1270.1 L1499.8,1270.4 L1502.3,1270.7 L1504.8,1270.9 L1507.3,1271.2 L1509.8,1271.4 L1512.3,1271.6 L1514.7,1271.8 L1517.2,1272.0 L1519.7,1272.2 L1522.2,1272.4 L1524.7,1272.5 L1527.2,1272.6 L1529.7,1272.8 L1532.2,1272.9 L1534.7,1273.0 L1537.2,1273.1 L1539.7,1273.2 L1542.1,1273.2 L1544.6,1273.3 L1547.1,1273.3 L1549.6,1273.4 L1552.1,1273.4 L1554.6,1273.5 L1557.1,1273.5 L1559.6,1273.5 L1562.1,1273.5 L1564.6,1273.5 L1567.1,1273.5 L1569.6,1273.5 L1572.1,1273.5 L1574.6,1273.5 L1577.1,1273.5 L1579.6,1273.5 L1582.1,1273.4 L1584.6,1273.4 L1587.1,1273.4 L1589.6,1273.4 L1592.1,1273.3 L1594.6,1273.3 L1597.1,1273.3 L1599.6,1273.2 L1602.1,1273.2 L1604.6,1273.2 L1607.1,1273.2 L1609.6,1273.1 L1612.1,1273.1 L1614.6,1273.1 L1617.1,1273.1 L1619.6,1273.1 L1622.1,1273.0 L1624.7,1273.0 L1627.2,1273.0 L1629.7,1273.0 L1632.2,1273.0 L1634.7,1273.0 L1637.2,1273.0 L1639.7,1273.0 L1642.2,1273.0 L1644.7,1273.0 L1647.2,1273.0 L1649.7,1273.0 L1652.2,1273.0 L1654.7,1273.0 L1657.2,1273.0 L1659.7,1273.0 L1662.2,1273.0 L1664.7,1273.0 L1667.2,1273.0 L1669.7,1273.1 L1672.2,1273.1 L1674.7,1273.1 L1677.2,1273.1 L1679.7,1273.2 L1682.2,1273.2 L1684.7,1273.2 L1687.2,1273.3 L1689.7,1273.3 L1692.2,1273.3 L1694.7,1273.4 L1697.2,1273.4 L1699.7,1273.5 L1702.2,1273.5 L1704.6,1273.6 L1707.1,1273.6 L1709.6,1273.7 L1712.1,1273.7 L1714.6,1273.8 L1717.1,1273.9 L1719.6,1274.0 L1722.1,1274.0 L1724.6,1274.1 L1727.1,1274.2 L1729.6,1274.3 L1732.1,1274.4 L1734.6,1274.4 L1737.1,1274.5 L1739.6,1274.6 L1742.1,1274.7 L1744.6,1274.8 L1747.1,1274.9 L1749.6,1275.1 L1752.1,1275.2 L1754.6,1275.3 L1757.1,1275.4 L1759.6,1275.5 L1762.1,1275.7 L1764.6,1275.8 L1767.1,1275.9 L1769.6,1276.1 L1772.1,1276.2 L1774.5,1276.4 L1777.0,1276.5 L1779.5,1276.7 L1782.0,1276.8 L1784.5,1277.0 L1787.0,1277.2 L1789.5,1277.3 L1792.0,1277.5 L1794.5,1277.7 L1797.0,1277.9 L1799.5,1278.1 L1802.0,1278.3 L1804.5,1278.5 L1807.0,1278.7 L1809.4,1278.9 L1811.9,1279.1 L1814.4,1279.3 L1816.9,1279.5 L1819.4,1279.7 L1821.9,1280.0 L1824.4,1280.2 L1826.9,1280.4 L1829.4,1280.7 L1831.9,1280.9 L1834.3,1281.2 L1836.8,1281.4 L1839.3,1281.7 L1841.8,1281.9 L1844.3,1282.2 L1846.8,1282.4 L1849.3,1282.7 L1851.8,1283.0 L1854.3,1283.2 L1856.7,1283.5 L1859.2,1283.8 L1861.7,1284.0 L1864.2,1284.3 L1866.7,1284.6 L1869.2,1284.8 L1871.7,1285.1 L1874.2,1285.4 L1876.6,1285.6 L1879.1,1285.9 L1881.6,1286.2 L1884.1,1286.4 L1886.6,1286.7 L1889.1,1286.9 L1891.6,1287.2 L1894.1,1287.4 L1896.6,1287.7 L1899.0,1287.9 L1901.5,1288.2 L1904.0,1288.4 L1906.5,1288.7 L1909.0,1288.9 L1911.5,1289.1 L1914.0,1289.3 L1916.5,1289.6 L1919.0,1289.8 L1921.5,1290.0 L1923.9,1290.2 L1926.4,1290.4 L1928.9,1290.6 L1931.4,1290.8 L1933.9,1290.9 L1936.4,1291.1 L1938.9,1291.3 L1941.4,1291.4 L1943.9,1291.6 L1946.4,1291.7 L1948.9,1291.9 L1951.4,1292.0 L1951.5,1292.0" stroke="#000080" stroke-width="9"/>
<path d="M270.0,1115.4 L272.4,1114.8 L274.8,1114.1 L277.2,1113.5 L279.6,1112.9 L282.1,1112.3 L284.5,1111.6 L286.9,1111.0 L289.3,1110.4 L291.7,1109.8 L294.2,1109.1 L296.6,1108.5 L299.0,1107.9 L301.5,1107.3 L303.9,1106.8 L306.4,1106.2 L308.8,1105.6 L311.2,1105.1 L313.7,1104.5 L316.1,1104.0 L318.6,1103.5 L321.0,1103.0 L323.5,1102.5 L326.0,1102.1 L328.4,1101.6 L330.9,1101.2 L333.4,1100.8 L335.8,1100.5 L338.3,1100.1 L340.8,1099.8 L343.3,1099.5 L345.7,1099.2 L348.2,1099.0 L350.7,1098.8 L353.2,1098.6 L355.7,1098.4 L358.2,1098.3 L360.7,1098.2 L363.2,1098.0 L365.7,1097.9 L368.2,1097.8 L370.7,1097.8 L373.2,1097.7 L375.7,1097.6 L378.2,1097.5 L380.7,1097.4 L383.2,1097.2 L385.7,1097.1 L388.1,1097.0 L390.6,1096.8 L393.1,1096.6 L395.6,1096.4 L398.1,1096.1 L400.5,1095.8 L403.0,1095.5 L405.5,1095.2 L408.0,1094.8 L410.4,1094.4 L412.9,1094.0 L415.3,1093.6 L417.8,1093.2 L420.3,1092.8 L422.7,1092.4 L425.2,1092.0 L427.7,1091.7 L430.2,1091.3 L432.7,1091.0 L435.1,1090.6 L437.6,1090.3 L440.1,1090.0 L442.6,1089.6 L445.1,1089.3 L447.5,1088.9 L450.0,1088.5 L452.5,1088.1 L454.9,1087.6 L457.4,1087.2 L459.8,1086.6 L462.2,1086.1 L464.6,1085.5 L467.0,1084.9 L469.4,1084.2 L471.8,1083.5 L474.2,1082.7 L476.6,1081.9 L478.9,1081.1 L481.2,1080.3 L483.6,1079.4 L485.9,1078.4 L488.2,1077.5 L490.5,1076.5 L492.7,1075.5 L495.0,1074.4 L497.3,1073.4 L499.5,1072.3 L501.7,1071.2 L504.0,1070.0 L506.2,1068.9 L508.4,1067.7 L510.6,1066.5 L512.8,1065.4 L515.0,1064.2 L517.3,1063.0 L519.5,1061.8 L521.7,1060.6 L523.9,1059.4 L526.1,1058.2 L528.3,1057.0 L530.6,1055.8 L532.8,1054.6 L535.0,1053.4 L537.3,1052.3 L539.5,1051.1 L541.8,1050.0 L544.0,1048.9 L546.3,1047.8 L548.5,1046.8 L550.8,1045.7 L553.1,1044.7 L555.4,1043.7 L557.7,1042.8 L560.0,1041.8 L562.3,1040.9 L564.7,1040.1 L567.0,1039.2 L569.4,1038.5 L571.8,1037.7 L574.1,1037.0 L576.5,1036.4 L579.0,1035.8 L581.4,1035.2 L583.8,1034.7 L586.3,1034.2 L588.7,1033.8 L591.2,1033.4 L593.7,1033.0 L596.1,1032.7 L598.6,1032.5 L601.1,1032.2 L603.6,1032.0 L606.1,1031.9 L608.6,1031.8 L611.1,1031.7 L613.7,1031.7 L616.2,1031.7 L618.7,1031.8 L621.2,1031.8 L623.7,1032.0 L626.2,1032.1 L628.7,1032.3 L631.2,1032.5 L633.7,1032.8 L636.2,1033.1 L638.7,1033.4 L641.1,1033.7 L643.6,1034.1 L646.1,1034.5 L648.5,1034.9 L651.0,1035.3 L653.4,1035.8 L655.9,1036.3 L658.3,1036.8 L660.8,1037.3 L663.2,1037.8 L665.7,1038.3 L668.1,1038.8 L670.5,1039.4 L673.0,1039.9 L675.4,1040.4 L677.8,1040.9 L680.3,1041.4 L682.7,1042.0 L685.2,1042.5 L687.6,1042.9 L690.1,1043.4 L692.5,1043.9 L695.0,1044.3 L697.4,1044.7 L699.9,1045.1 L702.4,1045.5 L704.8,1045.9 L707.3,1046.2 L709.8,1046.5 L712.3,1046.7 L714.8,1046.9 L717.3,1047.1 L719.8,1047.2 L722.3,1047.4 L724.8,1047.4 L727.4,1047.5 L729.9,1047.5 L732.4,1047.4 L734.9,1047.4 L737.4,1047.3 L740.0,1047.1 L742.5,1046.9 L745.0,1046.7 L747.5,1046.5 L750.0,1046.2 L752.5,1045.8 L755.0,1045.5 L757.5,1045.1 L759.9,1044.6 L762.4,1044.1 L764.8,1043.6 L767.3,1043.1 L769.7,1042.5 L772.1,1041.8 L774.5,1041.1 L776.9,1040.4 L779.3,1039.7 L781.6,1038.9 L784.0,1038.0 L786.3,1037.1 L788.6,1036.2 L790.9,1035.3 L793.2,1034.3 L795.4,1033.3 L797.7,1032.2 L799.9,1031.1 L802.1,1030.0 L804.3,1028.8 L806.5,1027.7 L808.7,1026.5 L810.9,1025.3 L813.0,1024.0 L815.2,1022.7 L817.3,1021.5 L819.5,1020.2 L821.6,1018.8 L823.7,1017.5 L825.8,1016.1 L827.9,1014.8 L830.0,1013.4 L832.1,1012.0 L834.2,1010.6 L836.3,1009.2 L838.4,1007.8 L840.5,1006.4 L842.6,1005.0 L844.7,1003.7 L846.8,1002.3 L848.9,1001.0 L851.0,999.6 L853.1,998.3 L855.3,997.1 L857.5,995.8 L859.7,994.6 L861.9,993.4 L864.1,992.3 L866.4,991.2 L868.7,990.1 L871.0,989.1 L873.3,988.2 L875.7,987.3 L878.1,986.4 L880.5,985.6 L883.0,984.9 L885.5,984.3 L888.0,983.8 L890.5,983.3 L893.0,983.0 L895.5,982.8 L898.0,982.6 L900.5,982.6 L902.9,982.7 L905.4,983.0 L907.8,983.4 L910.2,983.8 L912.5,984.4 L914.9,985.2 L917.2,986.0 L919.4,986.9 L921.7,987.9 L923.9,989.0 L926.1,990.2 L928.2,991.4 L930.3,992.8 L932.4,994.2 L934.4,995.7 L936.4,997.2 L938.3,998.9 L940.2,1000.5 L942.1,1002.2 L943.9,1004.0 L945.8,1005.7 L947.6,1007.5 L949.4,1009.3 L951.2,1011.1 L953.0,1012.8 L954.8,1014.6 L956.5,1016.4 L958.3,1018.1 L960.1,1019.9 L961.9,1021.7 L963.7,1023.4 L965.4,1025.2 L967.2,1026.9 L969.0,1028.7 L970.8,1030.4 L972.5,1032.2 L974.3,1033.9 L976.1,1035.6 L977.8,1037.4 L979.6,1039.1 L981.4,1040.8 L983.2,1042.6 L985.0,1044.3 L986.8,1046.0 L988.6,1047.7 L990.4,1049.4 L992.2,1051.1 L994.0,1052.8 L995.8,1054.4 L997.7,1056.1 L999.5,1057.8 L1001.4,1059.5 L1003.2,1061.1 L1005.1,1062.8 L1007.0,1064.4 L1008.9,1066.1 L1010.8,1067.7 L1012.7,1069.3 L1014.6,1070.9 L1016.5,1072.5 L1018.5,1074.1 L1020.5,1075.7 L1022.4,1077.3 L1024.4,1078.9 L1026.5,1080.4 L1028.5,1082.0 L1030.5,1083.5 L1032.6,1085.0 L1034.7,1086.5 L1036.8,1087.9 L1038.9,1089.3 L1041.0,1090.7 L1043.1,1092.0 L1045.3,1093.3 L1047.5,1094.5 L1049.7,1095.7 L1051.9,1096.8 L1054.1,1097.9 L1056.4,1099.0 L1058.7,1099.9 L1061.0,1100.8 L1063.3,1101.7 L1065.6,1102.5 L1068.0,1103.2 L1070.4,1103.8 L1072.8,1104.4 L1075.2,1104.8 L1077.6,1105.3 L1080.1,1105.6 L1082.6,1105.9 L1085.0,1106.1 L1087.5,1106.3 L1090.0,1106.4 L1092.5,1106.4 L1095.0,1106.4 L1097.5,1106.3 L1100.0,1106.1 L1102.5,1105.9 L1105.0,1105.7 L1107.5,1105.4 L1110.0,1105.0 L1112.5,1104.6 L1115.0,1104.1 L1117.5,1103.6 L1119.9,1103.0 L1122.4,1102.4 L1124.8,1101.7 L1127.2,1101.0 L1129.6,1100.2 L1132.0,1099.5 L1134.4,1098.6 L1136.7,1097.8 L1139.0,1096.9 L1141.4,1096.0 L1143.7,1095.0 L1146.0,1094.1 L1148.3,1093.1 L1150.6,1092.1 L1152.9,1091.1 L1155.2,1090.1 L1157.5,1089.1 L1159.7,1088.1 L1162.0,1087.1 L1164.3,1086.2 L1166.6,1085.2 L1168.9,1084.2 L1171.2,1083.3 L1173.6,1082.4 L1175.9,1081.4 L1178.2,1080.5 L1180.5,1079.6 L1182.9,1078.7 L1185.2,1077.8 L1187.5,1076.9 L1189.9,1076.1 L1192.3,1075.2 L1194.6,1074.3 L1197.0,1073.5 L1199.4,1072.7 L1201.8,1071.9 L1204.2,1071.1 L1206.6,1070.3 L1209.0,1069.6 L1211.5,1069.0 L1213.9,1068.4 L1216.4,1067.8 L1218.8,1067.4 L1221.3,1067.0 L1223.8,1066.7 L1226.3,1066.5 L1228.8,1066.5 L1231.3,1066.4 L1233.8,1066.5 L1236.3,1066.7 L1238.8,1067.0 L1241.3,1067.3 L1243.8,1067.7 L1246.2,1068.2 L1248.7,1068.8 L1251.1,1069.5 L1253.5,1070.2 L1255.8,1071.1 L1258.1,1072.0 L1260.4,1072.9 L1262.7,1074.0 L1264.9,1075.1 L1267.1,1076.3 L1269.2,1077.5 L1271.3,1078.8 L1273.3,1080.2 L1275.3,1081.7 L1277.2,1083.2 L1279.1,1084.7 L1281.0,1086.4 L1282.8,1088.0 L1284.6,1089.7 L1286.3,1091.5 L1288.0,1093.3 L1289.7,1095.1 L1291.4,1097.0 L1293.0,1098.9 L1294.6,1100.9 L1296.2,1102.8 L1297.7,1104.8 L1299.3,1106.8 L1300.8,1108.9 L1302.3,1110.9 L1303.8,1113.0 L1305.3,1115.1 L1306.8,1117.2 L1308.3,1119.3 L1309.7,1121.4 L1311.2,1123.5 L1312.7,1125.6 L1314.1,1127.6 L1315.6,1129.7 L1317.1,1131.8 L1318.5,1133.9 L1320.0,1135.9 L1321.5,1137.9 L1323.0,1140.0 L1324.5,1142.0 L1326.0,1144.0 L1327.5,1146.0 L1329.0,1148.0 L1330.5,1150.0 L1332.1,1151.9 L1333.6,1153.9 L1335.2,1155.8 L1336.7,1157.8 L1338.3,1159.7 L1339.8,1161.6 L1341.4,1163.5 L1343.0,1165.4 L1344.6,1167.3 L1346.2,1169.2 L1347.8,1171.1 L1349.4,1172.9 L1351.0,1174.8 L1352.7,1176.7 L1354.3,1178.5 L1356.0,1180.3 L1357.6,1182.2 L1359.3,1184.0 L1361.0,1185.8 L1362.7,1187.6 L1364.4,1189.4 L1366.1,1191.2 L1367.8,1193.0 L1369.5,1194.8 L1371.3,1196.6 L1373.0,1198.3 L1374.8,1200.1 L1376.6,1201.9 L1378.4,1203.6 L1380.2,1205.4 L1382.0,1207.1 L1383.8,1208.9 L1385.6,1210.6 L1387.5,1212.3 L1389.4,1214.0 L1391.2,1215.8 L1393.1,1217.5 L1395.0,1219.1 L1397.0,1220.8 L1398.9,1222.5 L1400.8,1224.1 L1402.8,1225.7 L1404.8,1227.2 L1406.8,1228.8 L1408.8,1230.3 L1410.9,1231.7 L1413.0,1233.1 L1415.0,1234.5 L1417.2,1235.8 L1419.3,1237.1 L1421.4,1238.3 L1423.6,1239.5 L1425.8,1240.6 L1428.0,1241.7 L1430.3,1242.8 L1432.5,1243.8 L1434.8,1244.8 L1437.0,1245.7 L1439.3,1246.6 L1441.6,1247.6 L1443.9,1248.5 L1446.3,1249.4 L1448.6,1250.2 L1450.9,1251.1 L1453.3,1252.0 L1455.6,1252.8 L1457.9,1253.7 L1460.3,1254.5 L1462.7,1255.4 L1465.0,1256.2 L1467.4,1257.0 L1469.8,1257.8 L1472.2,1258.6 L1474.6,1259.4 L1477.0,1260.2 L1479.4,1261.0 L1481.8,1261.7 L1484.2,1262.5 L1486.6,1263.2 L1489.0,1263.9 L1491.4,1264.6 L1493.8,1265.3 L1496.3,1266.0 L1498.7,1266.6 L1501.1,1267.3 L1503.6,1267.9 L1506.0,1268.5 L1508.4,1269.1 L1510.9,1269.7 L1513.3,1270.3 L1515.8,1270.8 L1518.2,1271.3 L1520.7,1271.8 L1523.1,1272.3 L1525.6,1272.8 L1528.0,1273.2 L1530.5,1273.7 L1533.0,1274.1 L1535.4,1274.5 L1537.9,1274.9 L1540.4,1275.2 L1542.8,1275.6 L1545.3,1275.9 L1547.8,1276.2 L1550.2,1276.6 L1552.7,1276.8 L1555.2,1277.1 L1557.7,1277.4 L1560.1,1277.7 L1562.6,1277.9 L1565.1,1278.1 L1567.6,1278.3 L1570.1,1278.5 L1572.6,1278.7 L1575.0,1278.9 L1577.5,1279.1 L1580.0,1279.3 L1582.5,1279.4 L1585.0,1279.6 L1587.5,1279.7 L1590.0,1279.8 L1592.5,1280.0 L1595.0,1280.1 L1597.5,1280.2 L1600.0,1280.3 L1602.5,1280.4 L1605.0,1280.4 L1607.5,1280.5 L1610.0,1280.6 L1612.5,1280.7 L1615.0,1280.7 L1617.5,1280.8 L1620.0,1280.8 L1622.5,1280.9 L1625.0,1280.9 L1627.5,1281.0 L1630.0,1281.0 L1632.5,1281.1 L1635.0,1281.1 L1637.5,1281.1 L1640.0,1281.2 L1642.5,1281.2 L1645.0,1281.2 L1647.5,1281.3 L1650.0,1281.3 L1652.5,1281.3 L1655.0,1281.4 L1657.5,1281.4 L1660.0,1281.4 L1662.5,1281.5 L1665.0,1281.5 L1667.5,1281.5 L1670.0,1281.6 L1672.5,1281.6 L1675.0,1281.7 L1677.5,1281.7 L1680.0,1281.7 L1682.5,1281.8 L1685.0,1281.8 L1687.5,1281.9 L1690.0,1281.9 L1692.5,1282.0 L1695.0,1282.0 L1697.5,1282.0 L1700.0,1282.1 L1702.5,1282.1 L1705.0,1282.2 L1707.5,1282.2 L1710.0,1282.3 L1712.5,1282.3 L1715.0,1282.4 L1717.5,1282.4 L1720.0,1282.5 L1722.5,1282.5 L1725.0,1282.6 L1727.5,1282.7 L1730.0,1282.7 L1732.5,1282.8 L1735.0,1282.8 L1737.5,1282.9 L1740.0,1282.9 L1742.5,1283.0 L1745.0,1283.1 L1747.5,1283.1 L1750.0,1283.2 L1752.5,1283.3 L1755.0,1283.3 L1757.5,1283.4 L1760.0,1283.5 L1762.5,1283.5 L1765.0,1283.6 L1767.5,1283.7 L1770.0,1283.7 L1772.5,1283.8 L1775.0,1283.9 L1777.5,1284.0 L1780.0,1284.0 L1782.5,1284.1 L1785.0,1284.2 L1787.5,1284.3 L1790.0,1284.3 L1792.5,1284.4 L1795.0,1284.5 L1797.4,1284.6 L1799.9,1284.7 L1802.4,1284.7 L1804.9,1284.8 L1807.4,1284.9 L1809.9,1285.0 L1812.4,1285.1 L1814.9,1285.2 L1817.4,1285.3 L1819.9,1285.4 L1822.4,1285.5 L1824.9,1285.5 L1827.4,1285.6 L1829.9,1285.7 L1832.4,1285.8 L1834.9,1285.9 L1837.4,1286.0 L1839.9,1286.1 L1842.4,1286.2 L1844.9,1286.3 L1847.4,1286.4 L1849.9,1286.6 L1852.4,1286.7 L1854.9,1286.8 L1857.4,1286.9 L1859.9,1287.0 L1862.4,1287.1 L1864.9,1287.2 L1867.4,1287.3 L1869.9,1287.4 L1872.4,1287.6 L1874.9,1287.7 L1877.4,1287.8 L1879.9,1287.9 L1882.4,1288.0 L1884.9,1288.2 L1887.3,1288.3 L1889.8,1288.4 L1892.3,1288.6 L1894.8,1288.7 L1897.3,1288.8 L1899.8,1288.9 L1902.3,1289.1 L1904.8,1289.2 L1907.3,1289.3 L1909.8,1289.5 L1912.3,1289.6 L1914.8,1289.8 L1917.3,1289.9 L1919.8,1290.1 L1922.3,1290.2 L1924.8,1290.3 L1927.3,1290.5 L1929.8,1290.6 L1932.3,1290.8 L1934.8,1290.9 L1937.3,1291.1 L1939.8,1291.3 L1942.3,1291.4 L1944.8,1291.6 L1947.3,1291.7 L1949.8,1291.9 L1951.5,1292.0" stroke="#800080" stroke-width="9"/>
<path d="M270.9,967.4 L273.0,966.1 L275.2,964.9 L277.3,963.6 L279.4,962.3 L281.6,961.1 L283.7,959.8 L285.9,958.6 L288.1,957.3 L290.3,956.1 L292.4,954.9 L294.6,953.7 L296.8,952.5 L299.0,951.3 L301.3,950.1 L303.5,949.0 L305.7,947.8 L308.0,946.7 L310.2,945.6 L312.5,944.5 L314.7,943.4 L317.0,942.3 L319.3,941.3 L321.6,940.3 L323.9,939.3 L326.2,938.3 L328.5,937.3 L330.8,936.4 L333.1,935.5 L335.5,934.6 L337.8,933.7 L340.2,932.9 L342.6,932.1 L344.9,931.3 L347.3,930.6 L349.7,929.8 L352.1,929.2 L354.5,928.5 L357.0,927.9 L359.4,927.3 L361.8,926.7 L364.3,926.2 L366.7,925.7 L369.2,925.2 L371.7,924.7 L374.1,924.3 L376.6,923.9 L379.1,923.4 L381.5,923.0 L384.0,922.5 L386.5,922.1 L388.9,921.6 L391.3,921.2 L393.8,920.7 L396.2,920.2 L398.6,919.7 L401.0,919.1 L403.4,918.5 L405.8,917.9 L408.1,917.2 L410.5,916.6 L412.9,915.9 L415.2,915.2 L417.6,914.5 L419.9,913.7 L422.3,913.0 L424.7,912.2 L427.1,911.4 L429.5,910.6 L431.9,909.8 L434.3,909.0 L436.8,908.1 L439.2,907.3 L441.6,906.4 L444.0,905.5 L446.4,904.5 L448.8,903.6 L451.1,902.6 L453.5,901.5 L455.8,900.4 L458.0,899.3 L460.3,898.1 L462.5,896.9 L464.6,895.7 L466.7,894.4 L468.8,893.1 L470.9,891.7 L472.9,890.3 L474.9,888.8 L476.9,887.4 L478.8,885.9 L480.7,884.3 L482.6,882.7 L484.5,881.1 L486.3,879.5 L488.1,877.8 L489.9,876.2 L491.7,874.4 L493.4,872.7 L495.1,870.9 L496.9,869.2 L498.6,867.4 L500.2,865.5 L501.9,863.7 L503.5,861.8 L505.2,860.0 L506.8,858.1 L508.4,856.2 L510.0,854.2 L511.6,852.3 L513.2,850.4 L514.8,848.4 L516.3,846.4 L517.9,844.5 L519.4,842.5 L521.0,840.5 L522.6,838.5 L524.1,836.5 L525.7,834.5 L527.2,832.5 L528.8,830.5 L530.3,828.6 L531.9,826.6 L533.4,824.6 L535.0,822.6 L536.6,820.6 L538.2,818.7 L539.8,816.7 L541.4,814.7 L543.0,812.8 L544.6,810.9 L546.2,809.0 L547.9,807.1 L549.6,805.2 L551.2,803.3 L552.9,801.4 L554.6,799.6 L556.4,797.8 L558.1,796.0 L559.9,794.2 L561.7,792.5 L563.5,790.8 L565.4,789.1 L567.2,787.4 L569.1,785.8 L571.0,784.3 L573.0,782.8 L575.0,781.3 L577.0,779.9 L579.1,778.5 L581.2,777.2 L583.3,776.0 L585.5,774.8 L587.7,773.7 L589.9,772.7 L592.2,771.7 L594.6,770.9 L597.0,770.1 L599.4,769.3 L601.8,768.7 L604.3,768.2 L606.8,767.7 L609.4,767.3 L611.9,767.0 L614.4,766.8 L616.9,766.7 L619.4,766.7 L621.9,766.8 L624.4,766.9 L626.9,767.1 L629.3,767.4 L631.8,767.7 L634.2,768.1 L636.7,768.6 L639.1,769.2 L641.5,769.8 L643.9,770.4 L646.3,771.1 L648.7,771.8 L651.1,772.6 L653.5,773.4 L655.8,774.3 L658.2,775.2 L660.5,776.1 L662.9,777.0 L665.2,778.0 L667.5,778.9 L669.9,779.9 L672.2,780.9 L674.5,781.9 L676.9,782.9 L679.2,783.8 L681.5,784.8 L683.8,785.8 L686.2,786.7 L688.5,787.6 L690.8,788.5 L693.2,789.3 L695.5,790.1 L697.9,790.9 L700.3,791.6 L702.6,792.2 L705.0,792.8 L707.4,793.4 L709.8,793.9 L712.3,794.3 L714.7,794.6 L717.2,794.9 L719.6,795.0 L722.1,795.1 L724.6,795.1 L727.1,795.0 L729.6,794.9 L732.1,794.6 L734.6,794.3 L737.2,793.9 L739.7,793.5 L742.2,793.0 L744.7,792.4 L747.1,791.7 L749.6,791.0 L752.1,790.2 L754.5,789.3 L756.9,788.4 L759.3,787.5 L761.6,786.5 L763.9,785.4 L766.2,784.3 L768.4,783.1 L770.6,781.9 L772.8,780.6 L774.9,779.3 L777.0,777.9 L779.0,776.6 L781.0,775.1 L783.0,773.6 L784.9,772.1 L786.8,770.6 L788.7,769.0 L790.5,767.4 L792.3,765.7 L794.1,764.0 L795.8,762.3 L797.5,760.5 L799.2,758.8 L800.9,756.9 L802.5,755.1 L804.1,753.2 L805.7,751.3 L807.3,749.4 L808.8,747.5 L810.4,745.5 L811.9,743.6 L813.4,741.6 L814.8,739.5 L816.3,737.5 L817.7,735.5 L819.2,733.4 L820.6,731.3 L822.0,729.2 L823.4,727.1 L824.8,725.0 L826.1,722.9 L827.5,720.8 L828.9,718.6 L830.2,716.5 L831.6,714.3 L832.9,712.2 L834.3,710.0 L835.6,707.9 L837.0,705.7 L838.3,703.6 L839.6,701.4 L841.0,699.3 L842.3,697.1 L843.7,695.0 L845.1,692.9 L846.4,690.8 L847.8,688.7 L849.2,686.6 L850.6,684.5 L852.0,682.4 L853.4,680.3 L854.8,678.3 L856.2,676.3 L857.7,674.3 L859.2,672.3 L860.7,670.3 L862.2,668.3 L863.7,666.4 L865.3,664.5 L866.9,662.6 L868.6,660.8 L870.2,659.0 L871.9,657.2 L873.7,655.4 L875.5,653.7 L877.3,652.0 L879.2,650.4 L881.1,648.8 L883.1,647.2 L885.2,645.7 L887.3,644.4 L889.5,643.2 L891.8,642.2 L894.2,641.5 L896.7,641.0 L899.2,640.7 L901.8,640.7 L904.4,640.8 L907.0,641.2 L909.6,641.8 L912.1,642.5 L914.5,643.4 L916.8,644.4 L918.9,645.6 L920.9,646.9 L922.8,648.4 L924.6,650.0 L926.3,651.6 L927.8,653.4 L929.3,655.3 L930.6,657.3 L931.9,659.3 L933.1,661.5 L934.3,663.7 L935.4,665.9 L936.4,668.2 L937.4,670.6 L938.3,673.0 L939.2,675.4 L940.1,677.8 L940.9,680.2 L941.8,682.7 L942.6,685.2 L943.5,687.6 L944.4,690.0 L945.2,692.4 L946.1,694.8 L947.0,697.2 L948.0,699.5 L948.9,701.8 L949.9,704.1 L950.8,706.4 L951.8,708.7 L952.8,711.0 L953.8,713.3 L954.8,715.5 L955.8,717.8 L956.8,720.0 L957.8,722.2 L958.9,724.5 L959.9,726.7 L961.0,728.9 L962.0,731.1 L963.1,733.3 L964.2,735.5 L965.3,737.7 L966.3,739.9 L967.4,742.2 L968.5,744.4 L969.6,746.6 L970.7,748.8 L971.8,751.1 L973.0,753.3 L974.1,755.5 L975.2,757.7 L976.3,760.0 L977.4,762.2 L978.6,764.4 L979.7,766.7 L980.8,768.9 L982.0,771.1 L983.1,773.4 L984.3,775.6 L985.4,777.8 L986.6,780.1 L987.7,782.3 L988.9,784.6 L990.0,786.8 L991.2,789.0 L992.3,791.3 L993.5,793.5 L994.7,795.7 L995.8,798.0 L997.0,800.2 L998.2,802.4 L999.3,804.7 L1000.5,806.9 L1001.7,809.1 L1002.8,811.4 L1004.0,813.6 L1005.2,815.8 L1006.3,818.1 L1007.5,820.3 L1008.7,822.5 L1009.8,824.7 L1011.0,826.9 L1012.2,829.2 L1013.3,831.4 L1014.5,833.6 L1015.7,835.8 L1016.8,838.0 L1018.0,840.2 L1019.1,842.4 L1020.3,844.6 L1021.5,846.8 L1022.7,849.0 L1023.9,851.1 L1025.1,853.3 L1026.3,855.5 L1027.5,857.6 L1028.8,859.7 L1030.0,861.9 L1031.3,864.0 L1032.7,866.0 L1034.0,868.1 L1035.4,870.2 L1036.8,872.2 L1038.3,874.2 L1039.7,876.2 L1041.3,878.2 L1042.8,880.2 L1044.4,882.1 L1046.1,884.0 L1047.8,885.9 L1049.5,887.7 L1051.3,889.5 L1053.1,891.3 L1055.0,893.1 L1056.9,894.8 L1058.9,896.4 L1060.9,898.0 L1062.9,899.5 L1065.0,900.9 L1067.1,902.3 L1069.2,903.6 L1071.4,904.9 L1073.6,906.0 L1075.9,907.0 L1078.2,908.0 L1080.5,908.8 L1082.8,909.6 L1085.1,910.2 L1087.5,910.8 L1089.9,911.2 L1092.4,911.4 L1094.8,911.6 L1097.3,911.6 L1099.8,911.5 L1102.3,911.3 L1104.8,910.9 L1107.3,910.4 L1109.8,909.9 L1112.2,909.2 L1114.7,908.4 L1117.1,907.5 L1119.4,906.5 L1121.7,905.4 L1124.0,904.2 L1126.2,902.9 L1128.3,901.6 L1130.4,900.2 L1132.4,898.7 L1134.4,897.2 L1136.4,895.6 L1138.3,894.0 L1140.2,892.3 L1142.0,890.7 L1143.9,889.1 L1145.7,887.4 L1147.6,885.7 L1149.4,884.1 L1151.3,882.4 L1153.1,880.8 L1155.0,879.1 L1156.8,877.4 L1158.6,875.8 L1160.4,874.1 L1162.2,872.4 L1164.1,870.7 L1165.9,869.1 L1167.7,867.4 L1169.5,865.7 L1171.3,864.0 L1173.2,862.3 L1175.0,860.6 L1176.8,858.9 L1178.6,857.1 L1180.4,855.4 L1182.3,853.7 L1184.1,852.0 L1185.9,850.2 L1187.8,848.5 L1189.6,846.8 L1191.5,845.0 L1193.3,843.3 L1195.2,841.5 L1197.1,839.8 L1199.0,838.1 L1200.9,836.5 L1202.9,834.9 L1204.9,833.3 L1206.9,831.8 L1208.9,830.4 L1211.0,829.0 L1213.2,827.8 L1215.4,826.6 L1217.6,825.5 L1219.9,824.6 L1222.2,823.7 L1224.6,823.0 L1227.1,822.5 L1229.5,822.0 L1232.0,821.8 L1234.5,821.6 L1237.0,821.7 L1239.4,821.9 L1241.9,822.3 L1244.2,822.8 L1246.5,823.6 L1248.8,824.6 L1250.9,825.7 L1253.0,827.1 L1255.0,828.6 L1256.9,830.2 L1258.8,832.0 L1260.6,833.8 L1262.3,835.7 L1264.0,837.6 L1265.7,839.6 L1267.3,841.5 L1268.8,843.5 L1270.3,845.6 L1271.8,847.6 L1273.2,849.7 L1274.6,851.8 L1275.9,853.9 L1277.3,856.0 L1278.5,858.2 L1279.8,860.4 L1281.0,862.6 L1282.2,864.8 L1283.4,867.0 L1284.5,869.2 L1285.6,871.4 L1286.7,873.7 L1287.8,875.9 L1288.9,878.2 L1289.9,880.4 L1291.0,882.7 L1292.0,885.0 L1293.0,887.3 L1294.0,889.6 L1294.9,891.9 L1295.9,894.2 L1296.9,896.5 L1297.8,898.8 L1298.7,901.1 L1299.6,903.4 L1300.5,905.7 L1301.4,908.1 L1302.3,910.4 L1303.2,912.7 L1304.0,915.1 L1304.9,917.4 L1305.7,919.8 L1306.5,922.1 L1307.4,924.5 L1308.2,926.8 L1309.0,929.2 L1309.8,931.6 L1310.6,933.9 L1311.4,936.3 L1312.2,938.7 L1313.0,941.0 L1313.8,943.4 L1314.5,945.8 L1315.3,948.2 L1316.1,950.6 L1316.8,952.9 L1317.6,955.3 L1318.4,957.7 L1319.1,960.1 L1319.9,962.5 L1320.7,964.8 L1321.4,967.2 L1322.2,969.6 L1323.0,972.0 L1323.7,974.4 L1324.5,976.8 L1325.3,979.1 L1326.0,981.5 L1326.8,983.9 L1327.6,986.3 L1328.3,988.7 L1329.1,991.1 L1329.9,993.4 L1330.7,995.8 L1331.4,998.2 L1332.2,1000.6 L1333.0,1003.0 L1333.8,1005.3 L1334.6,1007.7 L1335.3,1010.1 L1336.1,1012.5 L1336.9,1014.8 L1337.7,1017.2 L1338.5,1019.6 L1339.3,1022.0 L1340.1,1024.3 L1340.9,1026.7 L1341.7,1029.1 L1342.5,1031.5 L1343.3,1033.8 L1344.1,1036.2 L1344.9,1038.6 L1345.7,1040.9 L1346.5,1043.3 L1347.4,1045.7 L1348.2,1048.0 L1349.0,1050.4 L1349.8,1052.7 L1350.7,1055.1 L1351.5,1057.5 L1352.3,1059.8 L1353.2,1062.2 L1354.0,1064.5 L1354.9,1066.9 L1355.7,1069.2 L1356.6,1071.5 L1357.5,1073.9 L1358.3,1076.2 L1359.2,1078.6 L1360.1,1080.9 L1361.0,1083.2 L1361.9,1085.6 L1362.8,1087.9 L1363.7,1090.2 L1364.6,1092.5 L1365.6,1094.8 L1366.5,1097.2 L1367.4,1099.5 L1368.4,1101.8 L1369.3,1104.1 L1370.3,1106.4 L1371.2,1108.7 L1372.2,1111.0 L1373.2,1113.3 L1374.2,1115.5 L1375.2,1117.8 L1376.2,1120.1 L1377.2,1122.4 L1378.3,1124.6 L1379.3,1126.9 L1380.4,1129.2 L1381.4,1131.4 L1382.5,1133.7 L1383.6,1135.9 L1384.6,1138.2 L1385.7,1140.4 L1386.9,1142.6 L1388.0,1144.9 L1389.1,1147.1 L1390.2,1149.3 L1391.4,1151.5 L1392.6,1153.7 L1393.7,1155.9 L1394.9,1158.1 L1396.1,1160.3 L1397.4,1162.5 L1398.6,1164.7 L1399.8,1166.9 L1401.1,1169.1 L1402.3,1171.2 L1403.6,1173.4 L1404.9,1175.5 L1406.2,1177.7 L1407.5,1179.8 L1408.9,1182.0 L1410.2,1184.1 L1411.6,1186.2 L1413.0,1188.3 L1414.3,1190.4 L1415.8,1192.5 L1417.2,1194.6 L1418.6,1196.7 L1420.1,1198.8 L1421.5,1200.8 L1423.0,1202.9 L1424.5,1204.9 L1426.1,1206.9 L1427.6,1208.9 L1429.2,1210.8 L1430.8,1212.8 L1432.4,1214.7 L1434.1,1216.6 L1435.8,1218.4 L1437.5,1220.2 L1439.2,1222.0 L1441.0,1223.8 L1442.8,1225.5 L1444.6,1227.1 L1446.4,1228.8 L1448.3,1230.4 L1450.2,1231.9 L1452.2,1233.4 L1454.1,1234.8 L1456.2,1236.2 L1458.2,1237.6 L1460.3,1238.8 L1462.4,1240.1 L1464.6,1241.2 L1466.8,1242.4 L1469.0,1243.4 L1471.3,1244.5 L1473.5,1245.5 L1475.8,1246.4 L1478.2,1247.4 L1480.5,1248.2 L1482.8,1249.1 L1485.2,1249.9 L1487.6,1250.8 L1490.0,1251.6 L1492.4,1252.3 L1494.8,1253.1 L1497.2,1253.8 L1499.6,1254.6 L1502.0,1255.3 L1504.4,1256.0 L1506.9,1256.8 L1509.3,1257.5 L1511.7,1258.2 L1514.1,1258.8 L1516.5,1259.5 L1519.0,1260.2 L1521.4,1260.8 L1523.8,1261.5 L1526.2,1262.1 L1528.7,1262.8 L1531.1,1263.4 L1533.5,1264.0 L1535.9,1264.6 L1538.4,1265.2 L1540.8,1265.8 L1543.3,1266.4 L1545.7,1267.0 L1548.1,1267.6 L1550.6,1268.1 L1553.0,1268.7 L1555.4,1269.2 L1557.9,1269.7 L1560.3,1270.3 L1562.8,1270.8 L1565.2,1271.3 L1567.7,1271.8 L1570.1,1272.3 L1572.6,1272.8 L1575.0,1273.3 L1577.5,1273.8 L1579.9,1274.2 L1582.4,1274.7 L1584.8,1275.2 L1587.3,1275.6 L1589.7,1276.0 L1592.2,1276.5 L1594.7,1276.9 L1597.1,1277.3 L1599.6,1277.7 L1602.0,1278.1 L1604.5,1278.5 L1607.0,1278.9 L1609.4,1279.3 L1611.9,1279.7 L1614.4,1280.1 L1616.8,1280.4 L1619.3,1280.8 L1621.8,1281.1 L1624.2,1281.5 L1626.7,1281.8 L1629.2,1282.2 L1631.7,1282.5 L1634.1,1282.8 L1636.6,1283.1 L1639.1,1283.4 L1641.6,1283.7 L1644.0,1284.0 L1646.5,1284.3 L1649.0,1284.6 L1651.5,1284.9 L1654.0,1285.2 L1656.4,1285.4 L1658.9,1285.7 L1661.4,1285.9 L1663.9,1286.2 L1666.4,1286.4 L1668.9,1286.7 L1671.3,1286.9 L1673.8,1287.1 L1676.3,1287.4 L1678.8,1287.6 L1681.3,1287.8 L1683.8,1288.0 L1686.3,1288.2 L1688.8,1288.4 L1691.2,1288.6 L1693.7,1288.8 L1696.2,1289.0 L1698.7,1289.2 L1701.2,1289.3 L1703.7,1289.5 L1706.2,1289.7 L1708.7,1289.8 L1711.2,1290.0 L1713.7,1290.2 L1716.2,1290.3 L1718.7,1290.4 L1721.2,1290.6 L1723.7,1290.7 L1726.2,1290.9 L1728.7,1291.0 L1731.2,1291.1 L1733.7,1291.2 L1736.2,1291.3 L1738.7,1291.5 L1741.2,1291.6 L1743.7,1291.7 L1746.2,1291.8 L1748.7,1291.9 L1751.2,1292.0 L1753.7,1292.1 L1756.2,1292.2 L1758.7,1292.2 L1761.2,1292.3 L1763.7,1292.4 L1766.2,1292.5 L1768.7,1292.5 L1771.2,1292.6 L1773.7,1292.7 L1776.2,1292.7 L1778.7,1292.8 L1781.2,1292.9 L1783.7,1292.9 L1786.2,1293.0 L1788.7,1293.0 L1791.2,1293.1 L1793.7,1293.1 L1796.2,1293.1 L1798.7,1293.2 L1801.2,1293.2 L1803.7,1293.2 L1806.2,1293.3 L1808.7,1293.3 L1811.2,1293.3 L1813.7,1293.4 L1816.2,1293.4 L1818.8,1293.4 L1821.3,1293.4 L1823.8,1293.4 L1826.3,1293.4 L1828.8,1293.5 L1831.3,1293.5 L1833.8,1293.5 L1836.3,1293.5 L1838.8,1293.5 L1841.3,1293.5 L1843.8,1293.5 L1846.3,1293.5 L1848.8,1293.5 L1851.3,1293.5 L1853.8,1293.5 L1856.3,1293.5 L1858.8,1293.5 L1861.3,1293.5 L1863.8,1293.5 L1866.3,1293.5 L1868.8,1293.5 L1871.3,1293.4 L1873.8,1293.4 L1876.3,1293.4 L1878.8,1293.4 L1881.3,1293.4 L1883.8,1293.4 L1886.3,1293.4 L1888.8,1293.4 L1891.3,1293.3 L1893.8,1293.3 L1896.3,1293.3 L1898.8,1293.3 L1901.3,1293.3 L1903.8,1293.3 L1906.3,1293.2 L1908.8,1293.2 L1911.3,1293.2 L1913.8,1293.2 L1916.3,1293.2 L1918.8,1293.2 L1921.3,1293.2 L1923.8,1293.1 L1926.3,1293.1 L1928.8,1293.1 L1931.3,1293.1 L1933.8,1293.1 L1936.3,1293.1 L1938.8,1293.1 L1941.3,1293.0 L1943.7,1293.0 L1946.2,1293.0 L1948.7,1293.0 L1951.2,1293.0 L1951.5,1293.0" stroke="#800000" stroke-width="9"/>
<path d="M270.5,738.2 L272.4,736.4 L274.2,734.7 L276.2,733.1 L278.1,731.4 L280.0,729.9 L282.0,728.3 L284.0,726.8 L286.0,725.4 L288.0,723.9 L290.0,722.5 L292.1,721.1 L294.1,719.7 L296.2,718.4 L298.2,717.0 L300.3,715.6 L302.4,714.3 L304.5,712.9 L306.5,711.5 L308.6,710.1 L310.7,708.7 L312.7,707.2 L314.8,705.8 L316.9,704.4 L319.0,702.9 L321.0,701.5 L323.1,700.1 L325.2,698.7 L327.4,697.3 L329.5,696.0 L331.6,694.7 L333.8,693.4 L336.0,692.2 L338.2,691.0 L340.4,689.8 L342.6,688.8 L344.9,687.7 L347.2,686.8 L349.5,685.8 L351.8,685.0 L354.2,684.2 L356.6,683.4 L358.9,682.6 L361.3,681.9 L363.7,681.2 L366.2,680.5 L368.6,679.9 L371.0,679.2 L373.4,678.6 L375.9,678.0 L378.3,677.4 L380.7,676.7 L383.2,676.1 L385.6,675.5 L388.0,674.8 L390.4,674.1 L392.8,673.4 L395.2,672.7 L397.6,672.0 L399.9,671.2 L402.3,670.3 L404.6,669.5 L406.9,668.6 L409.2,667.6 L411.5,666.7 L413.8,665.7 L416.1,664.7 L418.3,663.6 L420.5,662.5 L422.8,661.4 L425.0,660.3 L427.1,659.1 L429.3,657.9 L431.5,656.7 L433.6,655.4 L435.8,654.1 L437.9,652.8 L440.0,651.5 L442.1,650.1 L444.2,648.7 L446.3,647.3 L448.3,645.9 L450.4,644.4 L452.4,642.9 L454.4,641.4 L456.4,639.9 L458.4,638.3 L460.3,636.7 L462.3,635.1 L464.2,633.4 L466.0,631.7 L467.9,630.0 L469.7,628.3 L471.5,626.5 L473.2,624.7 L474.9,622.8 L476.5,620.9 L478.1,619.0 L479.7,617.1 L481.2,615.1 L482.7,613.1 L484.1,611.0 L485.5,609.0 L486.8,606.8 L488.1,604.7 L489.3,602.5 L490.6,600.4 L491.8,598.2 L493.0,596.0 L494.1,593.8 L495.3,591.5 L496.4,589.3 L497.6,587.1 L498.7,584.9 L499.9,582.7 L501.1,580.5 L502.2,578.2 L503.3,576.0 L504.5,573.8 L505.6,571.6 L506.8,569.4 L507.9,567.2 L509.1,564.9 L510.2,562.7 L511.3,560.5 L512.4,558.3 L513.6,556.0 L514.7,553.8 L515.8,551.6 L516.9,549.4 L518.1,547.1 L519.2,544.9 L520.3,542.7 L521.4,540.4 L522.5,538.2 L523.6,536.0 L524.7,533.7 L525.7,531.5 L526.8,529.2 L527.9,527.0 L529.0,524.7 L530.0,522.4 L531.1,520.2 L532.2,517.9 L533.2,515.6 L534.3,513.4 L535.3,511.1 L536.4,508.8 L537.4,506.5 L538.4,504.2 L539.4,501.9 L540.5,499.6 L541.5,497.3 L542.5,495.0 L543.5,492.7 L544.6,490.4 L545.6,488.1 L546.7,485.8 L547.7,483.5 L548.8,481.3 L549.9,479.0 L551.0,476.7 L552.1,474.5 L553.3,472.3 L554.4,470.1 L555.6,467.9 L556.8,465.7 L558.1,463.5 L559.3,461.3 L560.6,459.2 L562.0,457.1 L563.3,455.0 L564.7,452.9 L566.1,450.9 L567.6,448.9 L569.1,446.9 L570.6,444.9 L572.2,443.0 L573.8,441.1 L575.5,439.2 L577.2,437.3 L579.0,435.5 L580.8,433.8 L582.7,432.0 L584.6,430.4 L586.5,428.8 L588.5,427.3 L590.6,425.9 L592.7,424.5 L594.8,423.3 L597.0,422.2 L599.2,421.2 L601.4,420.3 L603.7,419.5 L606.1,418.9 L608.5,418.4 L610.9,418.0 L613.4,417.9 L615.9,417.9 L618.4,418.0 L621.0,418.3 L623.6,418.7 L626.1,419.3 L628.7,419.9 L631.2,420.7 L633.7,421.5 L636.2,422.3 L638.6,423.2 L641.0,424.2 L643.3,425.2 L645.6,426.2 L647.9,427.3 L650.1,428.4 L652.2,429.6 L654.4,430.8 L656.5,432.0 L658.5,433.3 L660.6,434.7 L662.6,436.1 L664.6,437.5 L666.6,439.0 L668.5,440.5 L670.4,442.1 L672.4,443.7 L674.3,445.3 L676.2,447.0 L678.1,448.7 L680.0,450.3 L681.9,452.0 L683.8,453.6 L685.8,455.2 L687.7,456.8 L689.7,458.3 L691.8,459.7 L693.9,461.1 L696.0,462.4 L698.2,463.6 L700.4,464.7 L702.7,465.8 L705.0,466.7 L707.4,467.4 L709.8,468.1 L712.3,468.7 L714.8,469.2 L717.3,469.6 L719.8,469.8 L722.3,469.9 L724.8,470.0 L727.3,469.9 L729.8,469.7 L732.3,469.4 L734.8,469.0 L737.3,468.5 L739.7,467.8 L742.1,467.0 L744.4,466.2 L746.7,465.2 L748.9,464.0 L751.1,462.8 L753.2,461.5 L755.3,460.0 L757.3,458.5 L759.2,456.9 L761.1,455.3 L763.0,453.5 L764.8,451.8 L766.6,450.0 L768.4,448.1 L770.1,446.3 L771.8,444.4 L773.5,442.5 L775.1,440.6 L776.7,438.6 L778.3,436.7 L779.9,434.7 L781.4,432.7 L782.9,430.7 L784.3,428.7 L785.8,426.7 L787.2,424.6 L788.6,422.6 L790.0,420.5 L791.3,418.4 L792.6,416.3 L793.9,414.2 L795.2,412.0 L796.5,409.9 L797.7,407.7 L798.9,405.5 L800.1,403.4 L801.3,401.2 L802.5,399.0 L803.6,396.7 L804.7,394.5 L805.8,392.3 L806.9,390.0 L808.0,387.8 L809.1,385.5 L810.1,383.3 L811.2,381.0 L812.2,378.7 L813.2,376.4 L814.2,374.1 L815.2,371.8 L816.2,369.5 L817.1,367.2 L818.1,364.9 L819.0,362.5 L820.0,360.2 L820.9,357.9 L821.8,355.5 L822.7,353.2 L823.6,350.9 L824.5,348.5 L825.4,346.2 L826.3,343.8 L827.2,341.5 L828.1,339.1 L829.0,336.8 L829.9,334.4 L830.8,332.1 L831.6,329.7 L832.5,327.4 L833.4,325.1 L834.3,322.7 L835.2,320.4 L836.1,318.0 L836.9,315.7 L837.8,313.4 L838.7,311.1 L839.6,308.7 L840.5,306.4 L841.4,304.1 L842.3,301.8 L843.3,299.5 L844.2,297.2 L845.1,294.9 L846.0,292.6 L846.9,290.3 L847.9,288.0 L848.8,285.7 L849.7,283.4 L850.7,281.1 L851.6,278.8 L852.6,276.5 L853.5,274.2 L854.5,271.9 L855.4,269.6 L856.4,267.3 L857.4,265.0 L858.3,262.7 L859.3,260.4 L860.3,258.1 L861.3,255.7 L862.3,253.4 L863.3,251.1 L864.3,248.8 L865.3,246.5 L866.3,244.2 L867.3,241.8 L868.3,239.5 L869.3,237.2 L870.3,234.8 L871.3,232.5 L872.4,230.1 L873.4,227.8 L874.5,225.5 L875.7,223.2 L876.9,221.0 L878.1,218.9 L879.5,216.8 L880.9,214.8 L882.4,212.9 L884.0,211.0 L885.8,209.3 L887.6,207.7 L889.6,206.2 L891.8,204.9 L894.0,203.8 L896.4,202.8 L898.7,202.2 L901.1,201.9 L903.5,202.1 L905.8,202.6 L908.1,203.4 L910.2,204.5 L912.4,205.9 L914.4,207.4 L916.4,209.2 L918.2,211.1 L920.0,213.0 L921.6,215.1 L923.1,217.2 L924.6,219.3 L925.9,221.4 L927.1,223.6 L928.3,225.8 L929.4,228.1 L930.4,230.3 L931.4,232.6 L932.3,234.9 L933.1,237.2 L933.9,239.6 L934.7,241.9 L935.4,244.3 L936.1,246.7 L936.7,249.1 L937.3,251.5 L937.9,254.0 L938.4,256.4 L938.9,258.8 L939.4,261.3 L939.9,263.8 L940.3,266.2 L940.7,268.7 L941.1,271.2 L941.5,273.7 L941.9,276.2 L942.3,278.7 L942.7,281.1 L943.1,283.6 L943.5,286.1 L943.9,288.6 L944.3,291.1 L944.7,293.5 L945.2,296.0 L945.6,298.4 L946.1,300.9 L946.6,303.3 L947.1,305.8 L947.6,308.2 L948.1,310.6 L948.6,313.0 L949.1,315.5 L949.7,317.9 L950.2,320.3 L950.8,322.7 L951.4,325.1 L952.0,327.5 L952.6,329.9 L953.2,332.3 L953.8,334.8 L954.4,337.2 L955.1,339.6 L955.7,342.0 L956.4,344.4 L957.1,346.8 L957.7,349.2 L958.4,351.6 L959.1,354.0 L959.8,356.4 L960.5,358.8 L961.2,361.2 L961.9,363.6 L962.6,366.0 L963.4,368.4 L964.1,370.8 L964.8,373.2 L965.6,375.6 L966.3,378.0 L967.0,380.4 L967.8,382.8 L968.5,385.2 L969.3,387.6 L970.1,390.0 L970.8,392.4 L971.6,394.8 L972.4,397.2 L973.1,399.6 L973.9,402.0 L974.7,404.4 L975.4,406.8 L976.2,409.1 L977.0,411.5 L977.8,413.9 L978.5,416.3 L979.3,418.7 L980.1,421.1 L980.8,423.5 L981.6,425.9 L982.4,428.3 L983.1,430.6 L983.9,433.0 L984.6,435.4 L985.4,437.8 L986.1,440.2 L986.9,442.6 L987.6,444.9 L988.4,447.3 L989.1,449.7 L989.8,452.1 L990.6,454.5 L991.3,456.8 L992.0,459.2 L992.8,461.6 L993.5,464.0 L994.2,466.4 L994.9,468.7 L995.6,471.1 L996.3,473.5 L997.1,475.9 L997.8,478.2 L998.5,480.6 L999.2,483.0 L999.9,485.4 L1000.6,487.7 L1001.3,490.1 L1002.0,492.5 L1002.7,494.9 L1003.5,497.2 L1004.2,499.6 L1004.9,502.0 L1005.6,504.4 L1006.3,506.8 L1007.0,509.1 L1007.7,511.5 L1008.4,513.9 L1009.1,516.3 L1009.9,518.7 L1010.6,521.1 L1011.3,523.4 L1012.0,525.8 L1012.7,528.2 L1013.5,530.6 L1014.2,533.0 L1014.9,535.4 L1015.7,537.8 L1016.4,540.2 L1017.2,542.5 L1017.9,544.9 L1018.6,547.3 L1019.4,549.7 L1020.2,552.1 L1020.9,554.5 L1021.7,556.9 L1022.4,559.3 L1023.2,561.7 L1024.0,564.2 L1024.8,566.6 L1025.6,569.0 L1026.3,571.4 L1027.1,573.8 L1028.0,576.2 L1028.8,578.6 L1029.6,581.0 L1030.4,583.4 L1031.3,585.8 L1032.1,588.2 L1033.0,590.6 L1033.9,593.0 L1034.8,595.4 L1035.7,597.7 L1036.7,600.1 L1037.6,602.4 L1038.6,604.7 L1039.6,607.0 L1040.6,609.3 L1041.7,611.6 L1042.8,613.9 L1043.9,616.1 L1045.0,618.3 L1046.2,620.5 L1047.3,622.7 L1048.6,624.9 L1049.8,627.0 L1051.1,629.1 L1052.4,631.2 L1053.8,633.2 L1055.2,635.2 L1056.6,637.2 L1058.0,639.2 L1059.5,641.1 L1061.1,643.0 L1062.7,644.9 L1064.3,646.7 L1066.0,648.5 L1067.7,650.3 L1069.5,652.0 L1071.3,653.7 L1073.1,655.3 L1075.1,656.9 L1077.0,658.5 L1079.0,660.0 L1081.1,661.5 L1083.2,662.9 L1085.4,664.2 L1087.6,665.3 L1089.9,666.2 L1092.3,666.8 L1094.8,667.1 L1097.3,667.0 L1099.9,666.6 L1102.4,666.0 L1105.0,665.0 L1107.4,663.9 L1109.8,662.7 L1112.1,661.3 L1114.2,659.8 L1116.2,658.2 L1118.1,656.6 L1119.9,654.8 L1121.7,653.1 L1123.4,651.2 L1125.0,649.4 L1126.6,647.5 L1128.3,645.6 L1129.9,643.7 L1131.5,641.8 L1133.0,639.9 L1134.6,638.0 L1136.2,636.1 L1137.8,634.1 L1139.3,632.2 L1140.9,630.2 L1142.4,628.3 L1143.9,626.3 L1145.5,624.4 L1147.0,622.4 L1148.5,620.4 L1150.0,618.4 L1151.5,616.4 L1153.0,614.5 L1154.5,612.4 L1155.9,610.4 L1157.4,608.4 L1158.9,606.4 L1160.3,604.4 L1161.8,602.4 L1163.3,600.3 L1164.7,598.3 L1166.1,596.2 L1167.6,594.2 L1169.0,592.1 L1170.4,590.1 L1171.9,588.0 L1173.3,585.9 L1174.7,583.9 L1176.1,581.8 L1177.5,579.7 L1178.9,577.6 L1180.3,575.5 L1181.7,573.4 L1183.1,571.3 L1184.5,569.2 L1185.9,567.1 L1187.3,565.0 L1188.6,562.9 L1190.0,560.8 L1191.4,558.7 L1192.8,556.6 L1194.2,554.5 L1195.7,552.5 L1197.1,550.4 L1198.6,548.4 L1200.1,546.4 L1201.6,544.4 L1203.1,542.4 L1204.7,540.5 L1206.3,538.6 L1208.0,536.8 L1209.7,535.0 L1211.5,533.2 L1213.3,531.5 L1215.1,529.9 L1217.0,528.3 L1219.0,526.7 L1221.0,525.3 L1223.2,523.9 L1225.3,522.6 L1227.6,521.5 L1229.9,520.6 L1232.2,520.1 L1234.7,519.9 L1237.2,520.0 L1239.7,520.5 L1242.1,521.3 L1244.5,522.4 L1246.8,523.7 L1248.9,525.2 L1250.9,526.9 L1252.6,528.6 L1254.2,530.5 L1255.7,532.5 L1257.1,534.6 L1258.5,536.7 L1259.8,538.9 L1261.0,541.1 L1262.2,543.3 L1263.4,545.5 L1264.6,547.7 L1265.7,549.9 L1266.8,552.2 L1267.9,554.4 L1269.0,556.7 L1270.0,559.0 L1271.0,561.2 L1272.0,563.5 L1273.0,565.9 L1273.9,568.2 L1274.9,570.5 L1275.8,572.8 L1276.7,575.2 L1277.6,577.5 L1278.4,579.9 L1279.3,582.2 L1280.1,584.6 L1280.9,586.9 L1281.7,589.3 L1282.5,591.7 L1283.3,594.1 L1284.0,596.5 L1284.8,598.8 L1285.5,601.2 L1286.3,603.6 L1287.0,606.0 L1287.7,608.4 L1288.4,610.8 L1289.1,613.2 L1289.8,615.6 L1290.5,618.0 L1291.1,620.4 L1291.8,622.9 L1292.4,625.3 L1293.1,627.7 L1293.7,630.1 L1294.3,632.5 L1294.9,634.9 L1295.6,637.4 L1296.2,639.8 L1296.8,642.2 L1297.3,644.6 L1297.9,647.1 L1298.5,649.5 L1299.1,651.9 L1299.7,654.4 L1300.2,656.8 L1300.8,659.2 L1301.3,661.7 L1301.9,664.1 L1302.4,666.6 L1302.9,669.0 L1303.5,671.4 L1304.0,673.9 L1304.5,676.3 L1305.1,678.8 L1305.6,681.2 L1306.1,683.7 L1306.6,686.1 L1307.1,688.6 L1307.6,691.0 L1308.1,693.5 L1308.6,695.9 L1309.1,698.4 L1309.6,700.8 L1310.1,703.3 L1310.6,705.7 L1311.1,708.2 L1311.6,710.6 L1312.1,713.1 L1312.6,715.5 L1313.1,718.0 L1313.6,720.4 L1314.1,722.9 L1314.6,725.3 L1315.1,727.8 L1315.6,730.2 L1316.1,732.7 L1316.6,735.1 L1317.1,737.6 L1317.6,740.0 L1318.1,742.5 L1318.6,744.9 L1319.1,747.4 L1319.6,749.8 L1320.1,752.3 L1320.6,754.7 L1321.1,757.2 L1321.6,759.6 L1322.1,762.1 L1322.6,764.5 L1323.1,766.9 L1323.6,769.4 L1324.1,771.8 L1324.6,774.3 L1325.1,776.7 L1325.6,779.2 L1326.1,781.6 L1326.6,784.1 L1327.1,786.5 L1327.6,789.0 L1328.1,791.4 L1328.6,793.9 L1329.1,796.3 L1329.6,798.8 L1330.1,801.2 L1330.7,803.7 L1331.2,806.1 L1331.7,808.5 L1332.2,811.0 L1332.7,813.4 L1333.2,815.9 L1333.7,818.3 L1334.2,820.8 L1334.7,823.2 L1335.3,825.7 L1335.8,828.1 L1336.3,830.6 L1336.8,833.0 L1337.3,835.4 L1337.8,837.9 L1338.4,840.3 L1338.9,842.8 L1339.4,845.2 L1339.9,847.7 L1340.5,850.1 L1341.0,852.5 L1341.5,855.0 L1342.0,857.4 L1342.6,859.9 L1343.1,862.3 L1343.6,864.8 L1344.1,867.2 L1344.7,869.6 L1345.2,872.1 L1345.7,874.5 L1346.3,877.0 L1346.8,879.4 L1347.4,881.8 L1347.9,884.3 L1348.4,886.7 L1349.0,889.2 L1349.5,891.6 L1350.1,894.0 L1350.6,896.5 L1351.1,898.9 L1351.7,901.4 L1352.2,903.8 L1352.8,906.2 L1353.3,908.7 L1353.9,911.1 L1354.4,913.6 L1355.0,916.0 L1355.6,918.4 L1356.1,920.9 L1356.7,923.3 L1357.2,925.7 L1357.8,928.2 L1358.4,930.6 L1358.9,933.1 L1359.5,935.5 L1360.1,937.9 L1360.6,940.4 L1361.2,942.8 L1361.8,945.2 L1362.3,947.7 L1362.9,950.1 L1363.5,952.5 L1364.1,955.0 L1364.6,957.4 L1365.2,959.8 L1365.8,962.3 L1366.4,964.7 L1367.0,967.1 L1367.6,969.6 L1368.2,972.0 L1368.8,974.4 L1369.4,976.9 L1369.9,979.3 L1370.5,981.7 L1371.1,984.1 L1371.7,986.6 L1372.3,989.0 L1372.9,991.4 L1373.6,993.9 L1374.2,996.3 L1374.8,998.7 L1375.4,1001.2 L1376.0,1003.6 L1376.6,1006.0 L1377.2,1008.4 L1377.9,1010.9 L1378.5,1013.3 L1379.1,1015.7 L1379.8,1018.1 L1380.4,1020.6 L1381.0,1023.0 L1381.7,1025.4 L1382.3,1027.8 L1383.0,1030.2 L1383.6,1032.6 L1384.3,1035.1 L1385.0,1037.5 L1385.7,1039.9 L1386.3,1042.3 L1387.0,1044.7 L1387.7,1047.1 L1388.4,1049.5 L1389.1,1051.9 L1389.9,1054.3 L1390.6,1056.7 L1391.3,1059.0 L1392.1,1061.4 L1392.8,1063.8 L1393.6,1066.2 L1394.3,1068.6 L1395.1,1070.9 L1395.9,1073.3 L1396.7,1075.7 L1397.5,1078.0 L1398.3,1080.4 L1399.1,1082.7 L1399.9,1085.1 L1400.8,1087.4 L1401.6,1089.8 L1402.5,1092.1 L1403.4,1094.4 L1404.3,1096.8 L1405.2,1099.1 L1406.1,1101.4 L1407.0,1103.7 L1407.9,1106.0 L1408.9,1108.3 L1409.8,1110.6 L1410.8,1112.9 L1411.8,1115.2 L1412.8,1117.5 L1413.8,1119.8 L1414.8,1122.0 L1415.9,1124.3 L1416.9,1126.6 L1418.0,1128.8 L1419.1,1131.1 L1420.1,1133.3 L1421.3,1135.5 L1422.4,1137.8 L1423.5,1140.0 L1424.7,1142.2 L1425.9,1144.4 L1427.1,1146.6 L1428.3,1148.8 L1429.5,1151.0 L1430.7,1153.2 L1432.0,1155.3 L1433.3,1157.5 L1434.6,1159.7 L1435.9,1161.8 L1437.2,1163.9 L1438.5,1166.1 L1439.9,1168.2 L1441.3,1170.3 L1442.7,1172.4 L1444.1,1174.5 L1445.6,1176.6 L1447.0,1178.6 L1448.5,1180.6 L1450.0,1182.7 L1451.6,1184.7 L1453.1,1186.6 L1454.7,1188.6 L1456.3,1190.5 L1457.9,1192.5 L1459.5,1194.4 L1461.2,1196.2 L1462.9,1198.1 L1464.6,1199.9 L1466.3,1201.7 L1468.1,1203.5 L1469.9,1205.2 L1471.7,1207.0 L1473.5,1208.6 L1475.4,1210.3 L1477.2,1211.9 L1479.2,1213.5 L1481.1,1215.1 L1483.1,1216.6 L1485.0,1218.1 L1487.0,1219.6 L1489.1,1221.0 L1491.1,1222.4 L1493.2,1223.8 L1495.3,1225.1 L1497.4,1226.5 L1499.5,1227.8 L1501.7,1229.0 L1503.9,1230.3 L1506.0,1231.5 L1508.2,1232.7 L1510.4,1233.8 L1512.7,1235.0 L1514.9,1236.1 L1517.2,1237.2 L1519.4,1238.3 L1521.7,1239.4 L1524.0,1240.4 L1526.2,1241.4 L1528.5,1242.4 L1530.8,1243.4 L1533.1,1244.4 L1535.5,1245.3 L1537.8,1246.3 L1540.1,1247.2 L1542.4,1248.1 L1544.8,1249.0 L1547.1,1249.9 L1549.4,1250.7 L1551.8,1251.5 L1554.2,1252.4 L1556.5,1253.2 L1558.9,1254.0 L1561.3,1254.8 L1563.6,1255.5 L1566.0,1256.3 L1568.4,1257.0 L1570.8,1257.7 L1573.2,1258.4 L1575.6,1259.1 L1578.0,1259.8 L1580.4,1260.5 L1582.8,1261.1 L1585.2,1261.8 L1587.6,1262.4 L1590.1,1263.0 L1592.5,1263.7 L1594.9,1264.2 L1597.3,1264.8 L1599.8,1265.4 L1602.2,1266.0 L1604.7,1266.5 L1607.1,1267.1 L1609.5,1267.6 L1612.0,1268.1 L1614.4,1268.6 L1616.9,1269.1 L1619.3,1269.6 L1621.8,1270.1 L1624.3,1270.6 L1626.7,1271.1 L1629.2,1271.5 L1631.6,1272.0 L1634.1,1272.4 L1636.6,1272.8 L1639.0,1273.3 L1641.5,1273.7 L1644.0,1274.1 L1646.5,1274.5 L1648.9,1274.9 L1651.4,1275.3 L1653.9,1275.7 L1656.3,1276.1 L1658.8,1276.4 L1661.3,1276.8 L1663.8,1277.2 L1666.2,1277.5 L1668.7,1277.9 L1671.2,1278.2 L1673.7,1278.5 L1676.1,1278.9 L1678.6,1279.2 L1681.1,1279.5 L1683.6,1279.8 L1686.1,1280.1 L1688.5,1280.4 L1691.0,1280.7 L1693.5,1281.0 L1696.0,1281.3 L1698.5,1281.6 L1701.0,1281.8 L1703.4,1282.1 L1705.9,1282.4 L1708.4,1282.6 L1710.9,1282.9 L1713.4,1283.1 L1715.9,1283.4 L1718.4,1283.6 L1720.8,1283.8 L1723.3,1284.1 L1725.8,1284.3 L1728.3,1284.5 L1730.8,1284.7 L1733.3,1284.9 L1735.8,1285.1 L1738.3,1285.3 L1740.8,1285.5 L1743.3,1285.7 L1745.7,1285.9 L1748.2,1286.1 L1750.7,1286.2 L1753.2,1286.4 L1755.7,1286.6 L1758.2,1286.7 L1760.7,1286.9 L1763.2,1287.0 L1765.7,1287.2 L1768.2,1287.3 L1770.7,1287.5 L1773.2,1287.6 L1775.7,1287.7 L1778.2,1287.9 L1780.7,1288.0 L1783.2,1288.1 L1785.7,1288.2 L1788.2,1288.4 L1790.6,1288.5 L1793.1,1288.6 L1795.6,1288.7 L1798.1,1288.8 L1800.6,1288.9 L1803.1,1289.0 L1805.6,1289.1 L1808.1,1289.2 L1810.6,1289.3 L1813.1,1289.3 L1815.6,1289.4 L1818.1,1289.5 L1820.6,1289.6 L1823.1,1289.7 L1825.6,1289.7 L1828.1,1289.8 L1830.6,1289.9 L1833.1,1289.9 L1835.6,1290.0 L1838.1,1290.0 L1840.6,1290.1 L1843.1,1290.1 L1845.6,1290.2 L1848.1,1290.2 L1850.6,1290.3 L1853.1,1290.3 L1855.6,1290.4 L1858.1,1290.4 L1860.6,1290.5 L1863.1,1290.5 L1865.6,1290.5 L1868.1,1290.6 L1870.6,1290.6 L1873.1,1290.6 L1875.6,1290.6 L1878.1,1290.7 L1880.6,1290.7 L1883.1,1290.7 L1885.7,1290.7 L1888.2,1290.8 L1890.7,1290.8 L1893.2,1290.8 L1895.7,1290.8 L1898.2,1290.8 L1900.7,1290.8 L1903.2,1290.9 L1905.7,1290.9 L1908.2,1290.9 L1910.7,1290.9 L1913.2,1290.9 L1915.7,1290.9 L1918.2,1290.9 L1920.7,1290.9 L1923.2,1290.9 L1925.7,1290.9 L1928.2,1290.9 L1930.7,1291.0 L1933.2,1291.0 L1935.7,1291.0 L1938.2,1291.0 L1940.6,1291.0 L1943.1,1291.0 L1945.6,1291.0 L1948.1,1291.0 L1950.6,1291.0 L1951.5,1291.0" stroke="#008000" stroke-width="9"/>
</g>
<g font-family="'Liberation Sans', Arial, sans-serif" font-weight="700" fill="#000">
<text x="230.3" y="1312.0" font-size="71.5" text-anchor="end">0.0</text>
<text x="230.3" y="1135.5" font-size="71.5" text-anchor="end">0.1</text>
<text x="230.3" y="959.0" font-size="71.5" text-anchor="end">0.2</text>
<text x="230.3" y="782.5" font-size="71.5" text-anchor="end">0.3</text>
<text x="230.3" y="606.1" font-size="71.5" text-anchor="end">0.4</text>
<text x="230.3" y="429.6" font-size="71.5" text-anchor="end">0.5</text>
<text x="230.3" y="253.1" font-size="71.5" text-anchor="end">0.6</text>
<text x="230.3" y="76.6" font-size="71.5" text-anchor="end">0.7</text>
<text transform="translate(270.3,1391) scale(1,1.045)" font-size="70" text-anchor="middle">320</text>
<text transform="translate(606.5,1391) scale(1,1.045)" font-size="70" text-anchor="middle">340</text>
<text transform="translate(942.6,1391) scale(1,1.045)" font-size="70" text-anchor="middle">360</text>
<text transform="translate(1278.8,1391) scale(1,1.045)" font-size="70" text-anchor="middle">380</text>
<text transform="translate(1614.9,1391) scale(1,1.045)" font-size="70" text-anchor="middle">400</text>
<text transform="translate(1951.1,1391) scale(1,1.045)" font-size="70" text-anchor="middle">420</text>
<rect x="193.5" y="1127.1" width="13.2" height="10.4" fill="#fefefe"/><rect x="217.3" y="1127.1" width="12" height="10.4" fill="#fefefe"/>
<text x="1109.8" y="1488.8" font-size="81.5" text-anchor="middle">Wavelength (nm)</text>
<text transform="translate(92.2,680.2) rotate(-90)" font-size="84.2" text-anchor="middle">Absorbance</text>
<text x="1419.5" y="492.8" font-size="70.5">Increasing</text>
<text x="1420" y="580.5" font-size="70.5">concentration</text>
</g>
<line x1="1378" y1="424" x2="1378" y2="768" stroke="#b8b8b0" stroke-width="1.6"/>
<line x1="1383.3" y1="415" x2="1383.3" y2="768.5" stroke="#000" stroke-width="9" stroke-linecap="round"/>
<path d="M1379.8,366.5 L1385.8,366.5 L1398.6,417 L1398.6,422 L1365.6,422 L1365.6,417 Z" fill="#000" stroke="#000" stroke-width="1" stroke-linejoin="round"/>
</svg>
</body></html>
